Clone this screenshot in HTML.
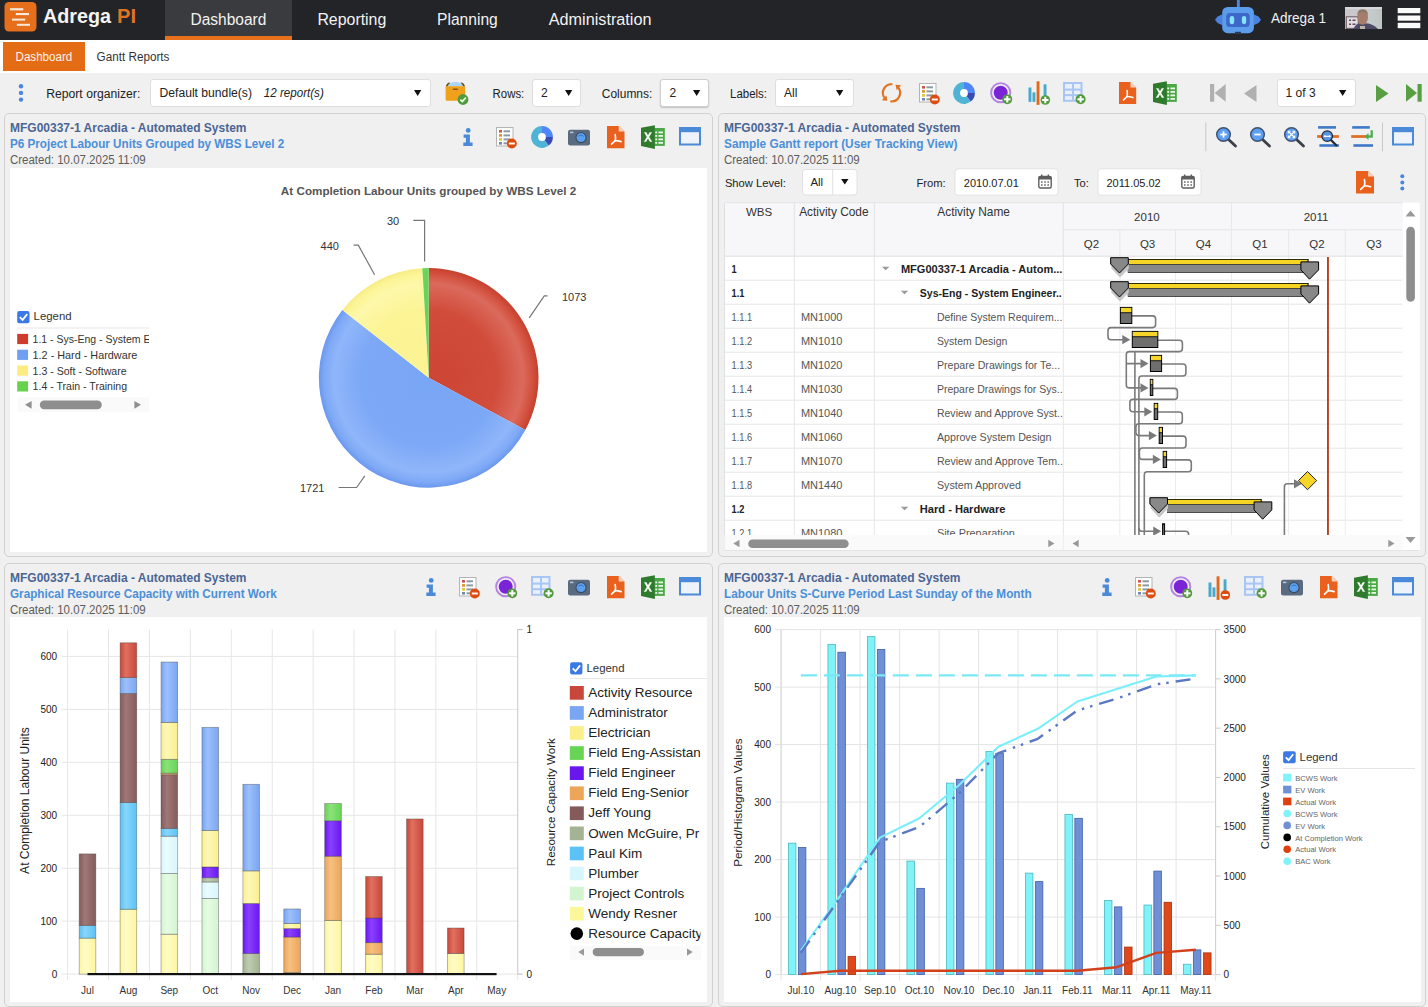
<!DOCTYPE html>
<html><head><meta charset="utf-8"><title>Adrega PI Dashboard</title>
<style>
*{box-sizing:border-box;margin:0;padding:0}
html,body{width:1428px;height:1007px;overflow:hidden;background:#f0f0f0;font-family:"Liberation Sans", sans-serif}
.t{position:absolute;white-space:nowrap}
.a{position:absolute}
svg.s{position:absolute;overflow:visible}
</style></head>
<body>
<div class="a" style="left:0px;top:0px;width:1428px;height:40px;background:#232428"></div>
<div class="a" style="left:165px;top:0px;width:127px;height:40px;background:#3a3b3f"></div>
<div class="a" style="left:165px;top:36px;width:127px;height:4px;background:#e8701a"></div>
<svg class="s" style="left:0;top:0" width="40" height="40">
<rect x="4.5" y="2" width="32" height="29.5" rx="4.5" fill="#e56f1a"/>
<g fill="#fbe9dc"><rect x="10" y="8.2" width="13.3" height="2.2"/><rect x="15.8" y="13" width="13.2" height="2.1"/>
<rect x="12" y="18.6" width="13.2" height="2"/><rect x="16.8" y="23.8" width="13.2" height="2"/></g></svg>






<svg class="s" style="left:1210px;top:0" width="60" height="40">
<rect x="26.9" y="0" width="2.9" height="8" fill="#4f86dc"/>
<path d="M12.6,14.3 L7.5,16.5 L5,19.7 L7.5,23 L12.6,25.2 Z" fill="#4a82e0"/>
<path d="M43.5,14.3 L48.6,16.5 L51,19.7 L48.6,23 L43.5,25.2 Z" fill="#4a82e0"/>
<rect x="12.2" y="6.9" width="31.7" height="26.3" rx="5.5" fill="#5b9ceb"/>
<rect x="25" y="31.8" width="6" height="1.6" fill="#2a3550"/>
<rect x="16.2" y="13" width="23.5" height="13.9" rx="3.5" fill="#3b68c9"/>
<rect x="19.7" y="16" width="4.5" height="8.2" rx="2.2" fill="#86e2fd"/>
<rect x="31.9" y="16" width="4.3" height="8.2" rx="2.1" fill="#86e2fd"/>
</svg>

<svg class="s" style="left:1345px;top:7px" width="37" height="22">
<defs><linearGradient id="ph" x1="0" x2="1"><stop offset="0" stop-color="#cdc5cb"/><stop offset="0.6" stop-color="#c9cbcb"/><stop offset="1" stop-color="#bcc6c4"/></linearGradient></defs>
<rect width="37" height="22" fill="url(#ph)"/>
<rect x="0" y="0" width="37" height="2" fill="#d8d8dc"/>
<rect x="1.3" y="9.8" width="12" height="11.6" fill="#e2dce2" stroke="#6e5c64" stroke-width="1.1"/>
<g fill="#5a4c58"><rect x="4" y="12.5" width="2" height="1.5"/><rect x="7.5" y="12.5" width="3" height="1.5"/><rect x="4" y="16.5" width="2" height="1.5"/><rect x="7.5" y="16.5" width="3" height="1.5"/></g>
<path d="M8.5,22 Q11,15.5 17,16.5 Q27,15.5 33,22 Z" fill="#4c4a66"/>
<ellipse cx="17.6" cy="10.6" rx="5.4" ry="7.2" fill="#a67d6b"/>
<path d="M12.2,9 Q12,2 17.6,2.2 Q23.3,2 23,9 Q22,5 17.6,5 Q13,5 12.2,9 Z" fill="#8a7868"/>
<rect x="15" y="19" width="5" height="3" fill="#bdb3a8"/>
</svg>
<svg class="s" style="left:1397px;top:8px" width="24" height="22"><g fill="#fafafa"><rect x="0.7" y="0" width="22.6" height="5.2"/><rect x="0.7" y="7.5" width="22.6" height="5.2"/><rect x="0.7" y="14.8" width="22.6" height="5.4"/></g></svg>
<div class="a" style="left:0px;top:40px;width:1428px;height:33px;background:#fff"></div>
<div class="a" style="left:3px;top:42px;width:82px;height:29px;background:#e36c14"></div>


<div class="a" style="left:0px;top:73px;width:1428px;height:40px;background:#f0f0f0"></div>
<svg class="s" style="left:16px;top:82px" width="10" height="22"><g fill="#4a86e0"><circle cx="5" cy="4.2" r="2.2"/><circle cx="5" cy="10.9" r="2.2"/><circle cx="5" cy="17.6" r="2.2"/></g></svg>

<div class="a" style="left:150px;top:79px;width:281px;height:28px;background:#fff;border:1px solid #dedede;border-radius:3px;"></div>


<svg class="s" style="left:413.9px;top:90px" width="8" height="6"><path d="M0,0 L7.3,0 L3.65,6 Z" fill="#111"/></svg>

<div class="a" style="left:532px;top:79px;width:49px;height:28px;background:#fff;border:1px solid #dedede;border-radius:3px;"></div>
<div class="t" style="left:541.0px;top:86.7px;font-size:12px;line-height:12px;color:#222;font-weight:normal;font-style:normal;">2</div>
<svg class="s" style="left:564.9px;top:90px" width="8" height="6"><path d="M0,0 L7.3,0 L3.65,6 Z" fill="#111"/></svg>

<div class="a" style="left:660px;top:79px;width:49px;height:28px;background:#fff;border:1px solid #dedede;border-radius:3px;border-color:#cfcfcf;box-shadow:0 1px 1.5px rgba(0,0,0,0.2)"></div>
<div class="t" style="left:669.6px;top:86.7px;font-size:12px;line-height:12px;color:#222;font-weight:normal;font-style:normal;">2</div>
<svg class="s" style="left:692.9px;top:90px" width="8" height="6"><path d="M0,0 L7.3,0 L3.65,6 Z" fill="#111"/></svg>

<div class="a" style="left:775px;top:79px;width:79px;height:28px;background:#fff;border:1px solid #dedede;border-radius:3px;"></div>
<div class="t" style="left:784.0px;top:86.7px;font-size:12px;line-height:12px;color:#222;font-weight:normal;font-style:normal;">All</div>
<svg class="s" style="left:836.4px;top:90px" width="8" height="6"><path d="M0,0 L7.3,0 L3.65,6 Z" fill="#111"/></svg>
<div class="a" style="left:1277px;top:79px;width:79px;height:28px;background:#fff;border:1px solid #dedede;border-radius:3px;"></div>
<div class="t" style="left:1285.6px;top:86.7px;font-size:12px;line-height:12px;color:#222;font-weight:normal;font-style:normal;">1 of 3</div>
<svg class="s" style="left:1338.9px;top:90px" width="8" height="6"><path d="M0,0 L7.3,0 L3.65,6 Z" fill="#111"/></svg>
<svg class="s" style="left:444.5px;top:81px" width="24" height="25" viewBox="0 0 24 25"><path d="M0.8,5.6 Q1.4,1.6 5,1.4 L3.6,5.6 Z" fill="#6a4a10"/><path d="M20,5.6 Q19.4,1.6 15.8,1.4 L17.2,5.6 Z" fill="#6a4a10"/><path d="M2.6,5.6 A7.9,5.4 0 0 1 18.2,5.6 Z" fill="#a9d6f8"/><rect x="0.6" y="5.2" width="19.6" height="14.6" rx="1" fill="#f0a11c"/><rect x="7.8" y="7.6" width="5.1" height="1.4" rx="0.6" fill="#8a5208"/><circle cx="18" cy="18.5" r="5.4" fill="#4f9a3c"/><path d="M15.3,18.6 L17.3,20.5 L20.8,16.6" fill="none" stroke="#e8ffe0" stroke-width="1.7"/></svg>
<svg class="s" style="left:880.5px;top:82px" width="21" height="21" viewBox="0 0 21 21"><g fill="none" stroke="#e0711f" stroke-width="2.1"><path d="M11.40,2.25 A8.6,8.6 0 0 0 3.72,16.09"/><path d="M9.30,19.32 A8.6,8.6 0 0 0 17.28,5.51"/></g><g fill="#e0711f"><path d="M0.8,18.2 L6.4,18.7 L5.4,13.5 Z"/><path d="M20.2,3.3 L14.6,2.8 L15.6,8 Z"/></g></svg>
<svg class="s" style="left:919px;top:83px" width="22" height="22" viewBox="0 0 22 22"><rect x="0.5" y="0.5" width="16.5" height="18.5" fill="#fff" stroke="#b4b4b4"/><rect x="3" y="3" width="3" height="2.6" fill="#c8574d"/><rect x="7.5" y="3.3" width="6.5" height="2" fill="#8d9aa2"/><rect x="3" y="7.1" width="3" height="2.6" fill="#e0922f"/><rect x="7.5" y="7.4" width="6.5" height="2" fill="#8d9aa2"/><rect x="3" y="11.1" width="3" height="2.6" fill="#e2c33c"/><rect x="7.5" y="11.4" width="6.5" height="2" fill="#8d9aa2"/><rect x="3" y="15" width="3" height="2.6" fill="#6f8cae"/><rect x="7.5" y="15.3" width="6.5" height="2" fill="#8d9aa2"/><circle cx="15.8" cy="16.5" r="5.0" fill="#dd4d10"/><rect x="12.8" y="15.55" width="6" height="1.9" fill="#fff"/></svg>
<svg class="s" style="left:952px;top:81px" width="24" height="24" viewBox="0 0 24 24"><g transform="translate(12,12)"><path d="M0,0 L0.00,-10.90 A10.9,10.9 0 0 1 10.90,-0.00 Z" fill="#4f86f7"/><path d="M0,0 L10.90,-0.00 A10.9,10.9 0 0 1 6.71,8.59 Z" fill="#3a4bb3"/><path d="M0,0 L6.71,8.59 A10.9,10.9 0 1 1 -0.00,-10.90 Z" fill="#4fb3d6"/><circle r="3.9" fill="#fff"/></g></svg>
<svg class="s" style="left:990px;top:82px" width="23" height="23" viewBox="0 0 23 23"><circle cx="10.7" cy="10.7" r="9.6" fill="none" stroke="#b483e4" stroke-width="1.9"/><circle cx="10.7" cy="10.7" r="7" fill="#7b23d6"/><circle cx="17.3" cy="17.3" r="4.9" fill="#529a3c"/><rect x="14.100000000000001" y="16.3" width="6.4" height="2" fill="#fff"/><rect x="16.3" y="14.100000000000001" width="2" height="6.4" fill="#fff"/></svg>
<svg class="s" style="left:1027.5px;top:80.8px" width="23" height="25" viewBox="0 0 23 25"><rect x="0.5" y="6.5" width="2.9" height="14.4" fill="#4aa8cc"/><rect x="4.5" y="11.4" width="2.9" height="9.5" fill="#4aa8cc"/><rect x="8.6" y="0.3" width="2.9" height="23.6" fill="#e06a1a"/><rect x="15.6" y="3.3" width="2.9" height="13" fill="#4aa8cc"/><circle cx="17.3" cy="19.0" r="4.8" fill="#529a3c"/><rect x="14.100000000000001" y="18.0" width="6.4" height="2" fill="#fff"/><rect x="16.3" y="15.8" width="2" height="6.4" fill="#fff"/></svg>
<svg class="s" style="left:1063px;top:81.5px" width="23" height="23" viewBox="0 0 23 23"><rect x="1" y="1" width="17.5" height="17.8" fill="#e9f0fc" stroke="#a9c5f3" stroke-width="2"/><rect x="9" y="1" width="2" height="18" fill="#a9c5f3"/><rect x="1" y="6.6" width="18" height="2" fill="#a9c5f3"/><rect x="1" y="12.2" width="18" height="2" fill="#a9c5f3"/><circle cx="17.6" cy="17.3" r="5.0" fill="#529a3c"/><rect x="14.400000000000002" y="16.3" width="6.4" height="2" fill="#fff"/><rect x="16.6" y="14.100000000000001" width="2" height="6.4" fill="#fff"/></svg>
<svg class="s" style="left:1119.2px;top:81.8px" width="17.2" height="22" viewBox="0 0 17.2 22"><path d="M0,0 L11.5,0 L17.2,5.5 L17.2,22 L0,22 Z" fill="#e9611c"/><path d="M11.5,0 L17.2,5.5 L11.5,5.5 Z" fill="#f7d3c0"/><g transform="translate(8.08,14.52) scale(1.000,1.000)" fill="none" stroke="#fff" stroke-width="1.6" stroke-linecap="round"><path d="M0,-6 Q0.6,-3 0,0"/><path d="M0,0 L-3.6,3.5"/><path d="M0,0 Q3,0.2 5.8,1"/></g></svg>
<svg class="s" style="left:1153px;top:80.8px" width="24" height="24" viewBox="0 0 24 24"><rect x="13.5" y="3" width="10.3" height="17.9" fill="#4aa846"/><g fill="#e9f7e6"><rect x="14.3" y="6.5" width="1.8" height="1.8"/><rect x="17.5" y="6.5" width="4.5" height="1.8"/><rect x="14.3" y="10" width="1.8" height="1.8"/><rect x="17.5" y="10" width="4.5" height="1.8"/><rect x="14.3" y="13.5" width="1.8" height="1.8"/><rect x="17.5" y="13.5" width="4.5" height="1.8"/><rect x="14.3" y="17" width="1.8" height="1.8"/><rect x="17.5" y="17" width="4.5" height="1.8"/></g><path d="M0,2.8 L13.9,0.3 L13.9,23.9 L0,21 Z" fill="#2f7a2c"/><path d="M3,7.3 L5.4,7.3 L7,10.2 L8.6,7.3 L11,7.3 L8.2,11.9 L11.2,16.8 L8.8,16.8 L7,13.6 L5.2,16.8 L2.8,16.8 L5.8,11.9 Z" fill="#f4fbf2"/></svg>
<svg class="s" style="left:1210px;top:84.1px" width="16" height="18" viewBox="0 0 16 18"><rect x="0" y="0" width="4.2" height="17.7" fill="#b0b0b0"/><path d="M4.7,8.9 L15.7,0 L15.7,17.7 Z" fill="#b0b0b0"/></svg>
<svg class="s" style="left:1244.4px;top:84.6px" width="13" height="18" viewBox="0 0 13 18"><path d="M0,8.6 L12.5,0 L12.5,17 Z" fill="#b0b0b0"/></svg>
<svg class="s" style="left:1375.8px;top:84.6px" width="13" height="18" viewBox="0 0 13 18"><path d="M12.5,8.6 L0,0 L0,17 Z" fill="#5a9e44"/></svg>
<svg class="s" style="left:1405.6px;top:84.1px" width="16" height="18" viewBox="0 0 16 18"><rect x="11.5" y="0" width="4.2" height="17.7" fill="#5a9e44"/><path d="M11,8.9 L0,0 L0,17.7 Z" fill="#5a9e44"/></svg>
<div class="a" style="left:4px;top:113px;width:709px;height:444px;background:#f0f0f0;border:1px solid #d2d2d2;border-radius:5px"></div>
<div class="a" style="left:718px;top:113px;width:708px;height:444px;background:#f0f0f0;border:1px solid #d2d2d2;border-radius:5px"></div>
<div class="a" style="left:4px;top:563px;width:709px;height:444px;background:#f0f0f0;border:1px solid #d2d2d2;border-radius:5px"></div>
<div class="a" style="left:718px;top:563px;width:708px;height:444px;background:#f0f0f0;border:1px solid #d2d2d2;border-radius:5px"></div>












<div class="a" style="left:10px;top:167.5px;width:697px;height:384.5px;background:#fff"></div>
<div class="a" style="left:10px;top:617px;width:697px;height:385px;background:#fff"></div>
<div class="a" style="left:724px;top:617px;width:697px;height:385px;background:#fff"></div>
<svg class="s" style="left:463px;top:128px" width="10" height="18" viewBox="0 0 10 18"><circle cx="5.2" cy="2.4" r="2.4" fill="#4a8ad8"/><path d="M0.6,6.6 L6.9,6.6 L6.9,14.5 L9.6,14.5 L9.6,17.9 L0.3,17.9 L0.3,14.5 L2.9,14.5 L2.9,9.8 L0.6,9.8 Z" fill="#4a8ad8"/></svg>
<svg class="s" style="left:496px;top:127px" width="22" height="22" viewBox="0 0 22 22"><rect x="0.5" y="0.5" width="16.5" height="18.5" fill="#fff" stroke="#b4b4b4"/><rect x="3" y="3" width="3" height="2.6" fill="#c8574d"/><rect x="7.5" y="3.3" width="6.5" height="2" fill="#8d9aa2"/><rect x="3" y="7.1" width="3" height="2.6" fill="#e0922f"/><rect x="7.5" y="7.4" width="6.5" height="2" fill="#8d9aa2"/><rect x="3" y="11.1" width="3" height="2.6" fill="#e2c33c"/><rect x="7.5" y="11.4" width="6.5" height="2" fill="#8d9aa2"/><rect x="3" y="15" width="3" height="2.6" fill="#6f8cae"/><rect x="7.5" y="15.3" width="6.5" height="2" fill="#8d9aa2"/><circle cx="15.8" cy="16.5" r="5.0" fill="#dd4d10"/><rect x="12.8" y="15.55" width="6" height="1.9" fill="#fff"/></svg>
<svg class="s" style="left:530px;top:125px" width="24" height="24" viewBox="0 0 24 24"><g transform="translate(12,12)"><path d="M0,0 L0.00,-10.90 A10.9,10.9 0 0 1 10.90,-0.00 Z" fill="#4f86f7"/><path d="M0,0 L10.90,-0.00 A10.9,10.9 0 0 1 6.71,8.59 Z" fill="#3a4bb3"/><path d="M0,0 L6.71,8.59 A10.9,10.9 0 1 1 -0.00,-10.90 Z" fill="#4fb3d6"/><circle r="3.9" fill="#fff"/></g></svg>
<svg class="s" style="left:568px;top:128.6px" width="22" height="17" viewBox="0 0 22 17"><rect x="0" y="0.8" width="22" height="15.7" rx="2.2" fill="#5a6b80"/><rect x="2" y="2.6" width="3.4" height="1.6" fill="#b8c4d4"/><circle cx="13" cy="8.6" r="5.6" fill="#3b4a5e"/><circle cx="13" cy="8.6" r="4.5" fill="#5b9ff0"/><path d="M10.5,7.5 A3,3 0 0 1 15.5,7.5" fill="none" stroke="#2f5fa0" stroke-width="0.7"/></svg>
<svg class="s" style="left:607.3px;top:125.6px" width="17.5" height="22.2" viewBox="0 0 17.5 22.2"><path d="M0,0 L11.7,0 L17.5,5.5 L17.5,22.2 L0,22.2 Z" fill="#e9611c"/><path d="M11.7,0 L17.5,5.5 L11.7,5.5 Z" fill="#f7d3c0"/><g transform="translate(8.22,14.65) scale(1.017,1.009)" fill="none" stroke="#fff" stroke-width="1.6" stroke-linecap="round"><path d="M0,-6 Q0.6,-3 0,0"/><path d="M0,0 L-3.6,3.5"/><path d="M0,0 Q3,0.2 5.8,1"/></g></svg>
<svg class="s" style="left:641px;top:124.8px" width="24" height="24" viewBox="0 0 24 24"><rect x="13.5" y="3" width="10.3" height="17.9" fill="#4aa846"/><g fill="#e9f7e6"><rect x="14.3" y="6.5" width="1.8" height="1.8"/><rect x="17.5" y="6.5" width="4.5" height="1.8"/><rect x="14.3" y="10" width="1.8" height="1.8"/><rect x="17.5" y="10" width="4.5" height="1.8"/><rect x="14.3" y="13.5" width="1.8" height="1.8"/><rect x="17.5" y="13.5" width="4.5" height="1.8"/><rect x="14.3" y="17" width="1.8" height="1.8"/><rect x="17.5" y="17" width="4.5" height="1.8"/></g><path d="M0,2.8 L13.9,0.3 L13.9,23.9 L0,21 Z" fill="#2f7a2c"/><path d="M3,7.3 L5.4,7.3 L7,10.2 L8.6,7.3 L11,7.3 L8.2,11.9 L11.2,16.8 L8.8,16.8 L7,13.6 L5.2,16.8 L2.8,16.8 L5.8,11.9 Z" fill="#f4fbf2"/></svg>
<svg class="s" style="left:679px;top:127.4px" width="22" height="19" viewBox="0 0 22 19"><rect x="1" y="1" width="20" height="16.5" fill="#eef3fb" stroke="#4a8ad8" stroke-width="2"/><rect x="0" y="0" width="22" height="5.2" fill="#4a8ad8"/></svg>
<svg class="s" style="left:426px;top:577.7px" width="10" height="18" viewBox="0 0 10 18"><circle cx="5.2" cy="2.4" r="2.4" fill="#4a8ad8"/><path d="M0.6,6.6 L6.9,6.6 L6.9,14.5 L9.6,14.5 L9.6,17.9 L0.3,17.9 L0.3,14.5 L2.9,14.5 L2.9,9.8 L0.6,9.8 Z" fill="#4a8ad8"/></svg>
<svg class="s" style="left:459px;top:577px" width="22" height="22" viewBox="0 0 22 22"><rect x="0.5" y="0.5" width="16.5" height="18.5" fill="#fff" stroke="#b4b4b4"/><rect x="3" y="3" width="3" height="2.6" fill="#c8574d"/><rect x="7.5" y="3.3" width="6.5" height="2" fill="#8d9aa2"/><rect x="3" y="7.1" width="3" height="2.6" fill="#e0922f"/><rect x="7.5" y="7.4" width="6.5" height="2" fill="#8d9aa2"/><rect x="3" y="11.1" width="3" height="2.6" fill="#e2c33c"/><rect x="7.5" y="11.4" width="6.5" height="2" fill="#8d9aa2"/><rect x="3" y="15" width="3" height="2.6" fill="#6f8cae"/><rect x="7.5" y="15.3" width="6.5" height="2" fill="#8d9aa2"/><circle cx="15.8" cy="16.5" r="5.0" fill="#dd4d10"/><rect x="12.8" y="15.55" width="6" height="1.9" fill="#fff"/></svg>
<svg class="s" style="left:494.5px;top:576px" width="23" height="23" viewBox="0 0 23 23"><circle cx="10.7" cy="10.7" r="9.6" fill="none" stroke="#b483e4" stroke-width="1.9"/><circle cx="10.7" cy="10.7" r="7" fill="#7b23d6"/><circle cx="17.3" cy="17.3" r="4.9" fill="#529a3c"/><rect x="14.100000000000001" y="16.3" width="6.4" height="2" fill="#fff"/><rect x="16.3" y="14.100000000000001" width="2" height="6.4" fill="#fff"/></svg>
<svg class="s" style="left:531px;top:576px" width="23" height="23" viewBox="0 0 23 23"><rect x="1" y="1" width="17.5" height="17.8" fill="#e9f0fc" stroke="#a9c5f3" stroke-width="2"/><rect x="9" y="1" width="2" height="18" fill="#a9c5f3"/><rect x="1" y="6.6" width="18" height="2" fill="#a9c5f3"/><rect x="1" y="12.2" width="18" height="2" fill="#a9c5f3"/><circle cx="17.6" cy="17.3" r="5.0" fill="#529a3c"/><rect x="14.400000000000002" y="16.3" width="6.4" height="2" fill="#fff"/><rect x="16.6" y="14.100000000000001" width="2" height="6.4" fill="#fff"/></svg>
<svg class="s" style="left:568.2px;top:578.7px" width="22" height="17" viewBox="0 0 22 17"><rect x="0" y="0.8" width="22" height="15.7" rx="2.2" fill="#5a6b80"/><rect x="2" y="2.6" width="3.4" height="1.6" fill="#b8c4d4"/><circle cx="13" cy="8.6" r="5.6" fill="#3b4a5e"/><circle cx="13" cy="8.6" r="4.5" fill="#5b9ff0"/><path d="M10.5,7.5 A3,3 0 0 1 15.5,7.5" fill="none" stroke="#2f5fa0" stroke-width="0.7"/></svg>
<svg class="s" style="left:607.2px;top:575.7px" width="17.5" height="22.2" viewBox="0 0 17.5 22.2"><path d="M0,0 L11.7,0 L17.5,5.5 L17.5,22.2 L0,22.2 Z" fill="#e9611c"/><path d="M11.7,0 L17.5,5.5 L11.7,5.5 Z" fill="#f7d3c0"/><g transform="translate(8.22,14.65) scale(1.017,1.009)" fill="none" stroke="#fff" stroke-width="1.6" stroke-linecap="round"><path d="M0,-6 Q0.6,-3 0,0"/><path d="M0,0 L-3.6,3.5"/><path d="M0,0 Q3,0.2 5.8,1"/></g></svg>
<svg class="s" style="left:641px;top:575px" width="24" height="24" viewBox="0 0 24 24"><rect x="13.5" y="3" width="10.3" height="17.9" fill="#4aa846"/><g fill="#e9f7e6"><rect x="14.3" y="6.5" width="1.8" height="1.8"/><rect x="17.5" y="6.5" width="4.5" height="1.8"/><rect x="14.3" y="10" width="1.8" height="1.8"/><rect x="17.5" y="10" width="4.5" height="1.8"/><rect x="14.3" y="13.5" width="1.8" height="1.8"/><rect x="17.5" y="13.5" width="4.5" height="1.8"/><rect x="14.3" y="17" width="1.8" height="1.8"/><rect x="17.5" y="17" width="4.5" height="1.8"/></g><path d="M0,2.8 L13.9,0.3 L13.9,23.9 L0,21 Z" fill="#2f7a2c"/><path d="M3,7.3 L5.4,7.3 L7,10.2 L8.6,7.3 L11,7.3 L8.2,11.9 L11.2,16.8 L8.8,16.8 L7,13.6 L5.2,16.8 L2.8,16.8 L5.8,11.9 Z" fill="#f4fbf2"/></svg>
<svg class="s" style="left:679px;top:577.3px" width="22" height="19" viewBox="0 0 22 19"><rect x="1" y="1" width="20" height="16.5" fill="#eef3fb" stroke="#4a8ad8" stroke-width="2"/><rect x="0" y="0" width="22" height="5.2" fill="#4a8ad8"/></svg>
<svg class="s" style="left:1102px;top:577.9px" width="10" height="18" viewBox="0 0 10 18"><circle cx="5.2" cy="2.4" r="2.4" fill="#4a8ad8"/><path d="M0.6,6.6 L6.9,6.6 L6.9,14.5 L9.6,14.5 L9.6,17.9 L0.3,17.9 L0.3,14.5 L2.9,14.5 L2.9,9.8 L0.6,9.8 Z" fill="#4a8ad8"/></svg>
<svg class="s" style="left:1135px;top:577px" width="22" height="22" viewBox="0 0 22 22"><rect x="0.5" y="0.5" width="16.5" height="18.5" fill="#fff" stroke="#b4b4b4"/><rect x="3" y="3" width="3" height="2.6" fill="#c8574d"/><rect x="7.5" y="3.3" width="6.5" height="2" fill="#8d9aa2"/><rect x="3" y="7.1" width="3" height="2.6" fill="#e0922f"/><rect x="7.5" y="7.4" width="6.5" height="2" fill="#8d9aa2"/><rect x="3" y="11.1" width="3" height="2.6" fill="#e2c33c"/><rect x="7.5" y="11.4" width="6.5" height="2" fill="#8d9aa2"/><rect x="3" y="15" width="3" height="2.6" fill="#6f8cae"/><rect x="7.5" y="15.3" width="6.5" height="2" fill="#8d9aa2"/><circle cx="15.8" cy="16.5" r="5.0" fill="#dd4d10"/><rect x="12.8" y="15.55" width="6" height="1.9" fill="#fff"/></svg>
<svg class="s" style="left:1170.3px;top:576px" width="23" height="23" viewBox="0 0 23 23"><circle cx="10.7" cy="10.7" r="9.6" fill="none" stroke="#b483e4" stroke-width="1.9"/><circle cx="10.7" cy="10.7" r="7" fill="#7b23d6"/><circle cx="17.3" cy="17.3" r="4.9" fill="#529a3c"/><rect x="14.100000000000001" y="16.3" width="6.4" height="2" fill="#fff"/><rect x="16.3" y="14.100000000000001" width="2" height="6.4" fill="#fff"/></svg>
<svg class="s" style="left:1207.6px;top:575.5px" width="23" height="25" viewBox="0 0 23 25"><rect x="0.5" y="6.5" width="2.9" height="14.4" fill="#4aa8cc"/><rect x="4.5" y="11.4" width="2.9" height="9.5" fill="#4aa8cc"/><rect x="8.6" y="0.3" width="2.9" height="23.6" fill="#e06a1a"/><rect x="15.6" y="3.3" width="2.9" height="13" fill="#4aa8cc"/><circle cx="17.3" cy="19.0" r="4.8" fill="#dd4d10"/><rect x="14.3" y="18.05" width="6" height="1.9" fill="#fff"/></svg>
<svg class="s" style="left:1244px;top:576px" width="23" height="23" viewBox="0 0 23 23"><rect x="1" y="1" width="17.5" height="17.8" fill="#e9f0fc" stroke="#a9c5f3" stroke-width="2"/><rect x="9" y="1" width="2" height="18" fill="#a9c5f3"/><rect x="1" y="6.6" width="18" height="2" fill="#a9c5f3"/><rect x="1" y="12.2" width="18" height="2" fill="#a9c5f3"/><circle cx="17.6" cy="17.3" r="5.0" fill="#529a3c"/><rect x="14.400000000000002" y="16.3" width="6.4" height="2" fill="#fff"/><rect x="16.6" y="14.100000000000001" width="2" height="6.4" fill="#fff"/></svg>
<svg class="s" style="left:1281.2px;top:578.7px" width="22" height="17" viewBox="0 0 22 17"><rect x="0" y="0.8" width="22" height="15.7" rx="2.2" fill="#5a6b80"/><rect x="2" y="2.6" width="3.4" height="1.6" fill="#b8c4d4"/><circle cx="13" cy="8.6" r="5.6" fill="#3b4a5e"/><circle cx="13" cy="8.6" r="4.5" fill="#5b9ff0"/><path d="M10.5,7.5 A3,3 0 0 1 15.5,7.5" fill="none" stroke="#2f5fa0" stroke-width="0.7"/></svg>
<svg class="s" style="left:1320.3px;top:575.7px" width="17.5" height="22.2" viewBox="0 0 17.5 22.2"><path d="M0,0 L11.7,0 L17.5,5.5 L17.5,22.2 L0,22.2 Z" fill="#e9611c"/><path d="M11.7,0 L17.5,5.5 L11.7,5.5 Z" fill="#f7d3c0"/><g transform="translate(8.22,14.65) scale(1.017,1.009)" fill="none" stroke="#fff" stroke-width="1.6" stroke-linecap="round"><path d="M0,-6 Q0.6,-3 0,0"/><path d="M0,0 L-3.6,3.5"/><path d="M0,0 Q3,0.2 5.8,1"/></g></svg>
<svg class="s" style="left:1354px;top:575px" width="24" height="24" viewBox="0 0 24 24"><rect x="13.5" y="3" width="10.3" height="17.9" fill="#4aa846"/><g fill="#e9f7e6"><rect x="14.3" y="6.5" width="1.8" height="1.8"/><rect x="17.5" y="6.5" width="4.5" height="1.8"/><rect x="14.3" y="10" width="1.8" height="1.8"/><rect x="17.5" y="10" width="4.5" height="1.8"/><rect x="14.3" y="13.5" width="1.8" height="1.8"/><rect x="17.5" y="13.5" width="4.5" height="1.8"/><rect x="14.3" y="17" width="1.8" height="1.8"/><rect x="17.5" y="17" width="4.5" height="1.8"/></g><path d="M0,2.8 L13.9,0.3 L13.9,23.9 L0,21 Z" fill="#2f7a2c"/><path d="M3,7.3 L5.4,7.3 L7,10.2 L8.6,7.3 L11,7.3 L8.2,11.9 L11.2,16.8 L8.8,16.8 L7,13.6 L5.2,16.8 L2.8,16.8 L5.8,11.9 Z" fill="#f4fbf2"/></svg>
<svg class="s" style="left:1392px;top:577.3px" width="22" height="19" viewBox="0 0 22 19"><rect x="1" y="1" width="20" height="16.5" fill="#eef3fb" stroke="#4a8ad8" stroke-width="2"/><rect x="0" y="0" width="22" height="5.2" fill="#4a8ad8"/></svg>
<svg class="s" style="left:10px;top:167.5px" width="697" height="384.5" viewBox="10 167.5 697 384.5"><defs><radialGradient id="pgr" gradientUnits="userSpaceOnUse" cx="428.7" cy="377.3" r="109.8"><stop offset="0" stop-color="#cd4533"/><stop offset="0.62" stop-color="#d14c3b"/><stop offset="0.86" stop-color="#db6a5c"/><stop offset="0.95" stop-color="#d24f3d"/><stop offset="1" stop-color="#c63f2d"/></radialGradient><radialGradient id="pgb" gradientUnits="userSpaceOnUse" cx="428.7" cy="377.3" r="109.8"><stop offset="0" stop-color="#78a5f5"/><stop offset="0.62" stop-color="#7da8f6"/><stop offset="0.86" stop-color="#8fb6fa"/><stop offset="0.95" stop-color="#7fa9f6"/><stop offset="1" stop-color="#6a98ee"/></radialGradient><radialGradient id="pgy" gradientUnits="userSpaceOnUse" cx="428.7" cy="377.3" r="109.8"><stop offset="0" stop-color="#fcf493"/><stop offset="0.62" stop-color="#fcf495"/><stop offset="0.86" stop-color="#fdf8aa"/><stop offset="0.95" stop-color="#fcf596"/><stop offset="1" stop-color="#f5ec85"/></radialGradient><radialGradient id="pgg" gradientUnits="userSpaceOnUse" cx="428.7" cy="377.3" r="109.8"><stop offset="0" stop-color="#66cf55"/><stop offset="1" stop-color="#6ad35a"/></radialGradient></defs><path d="M428.7,377.3 L428.70,267.50 A109.8,109.8 0 0 1 525.33,429.43 Z" fill="url(#pgr)"/><path d="M428.7,377.3 L525.33,429.43 A109.8,109.8 0 1 1 342.37,309.46 Z" fill="url(#pgb)"/><path d="M428.7,377.3 L342.37,309.46 A109.8,109.8 0 0 1 422.36,267.68 Z" fill="url(#pgy)"/><path d="M428.7,377.3 L422.36,267.68 A109.8,109.8 0 0 1 428.70,267.50 Z" fill="url(#pgg)"/><path d="M413.3,219.8 L424.6,219.8 L424.6,261" fill="none" stroke="#777" stroke-width="1.2"/><path d="M353.5,244.7 L358.3,244.7 L374.6,274.2" fill="none" stroke="#777" stroke-width="1.2"/><path d="M547.6,295.4 L544.3,295.4 L529.2,317.4" fill="none" stroke="#777" stroke-width="1.2"/><path d="M338.6,487 L356.6,487 L364.8,475.3" fill="none" stroke="#777" stroke-width="1.2"/><text x="387" y="224" font-family="Liberation Sans" font-size="11" fill="#333">30</text><text x="320.6" y="249.3" font-family="Liberation Sans" font-size="11" fill="#333">440</text><text x="562" y="300.6" font-family="Liberation Sans" font-size="11" fill="#333">1073</text><text x="300" y="491.3" font-family="Liberation Sans" font-size="11" fill="#333">1721</text><text x="428.6" y="194.6" text-anchor="middle" font-family="Liberation Sans" font-size="11.7" font-weight="bold" fill="#555">At Completion Labour Units grouped by WBS Level 2</text><rect x="17.2" y="310.5" width="12.3" height="12.2" rx="2" fill="#3b7ae6"/><path d="M19.8,316.6 L22.6,319.4 L27.2,313.6" fill="none" stroke="#fff" stroke-width="1.8"/><text x="33.6" y="319.8" font-family="Liberation Sans" font-size="11.4" fill="#333">Legend</text><rect x="17" y="327" width="132" height="1" fill="#e8e8e8"/><defs><clipPath id="plc"><rect x="10" y="328" width="139" height="70"/></clipPath></defs><g clip-path="url(#plc)"><rect x="17.2" y="333.4" width="10.9" height="10.2" fill="#cf3c2c"/><text x="32.6" y="342.4" font-family="Liberation Sans" font-size="10.5" fill="#333">1.1 - Sys-Eng - System E</text><rect x="17.2" y="349.2" width="10.9" height="10.2" fill="#6e9ff0"/><text x="32.6" y="358.2" font-family="Liberation Sans" font-size="10.8" fill="#333" textLength="104.7" lengthAdjust="spacingAndGlyphs">1.2 - Hard - Hardware</text><rect x="17.2" y="365.0" width="10.9" height="10.2" fill="#fbeb80"/><text x="32.6" y="374.0" font-family="Liberation Sans" font-size="10.8" fill="#333" textLength="94" lengthAdjust="spacingAndGlyphs">1.3 - Soft - Software</text><rect x="17.2" y="380.8" width="10.9" height="10.2" fill="#68d24c"/><text x="32.6" y="389.8" font-family="Liberation Sans" font-size="10.8" fill="#333" textLength="94.5" lengthAdjust="spacingAndGlyphs">1.4 - Train - Training</text></g><rect x="17.5" y="397" width="131.5" height="14.5" fill="#fafafa"/><path d="M25,404.3 L31.6,400.4 L31.6,408.3 Z" fill="#909090"/><rect x="39.8" y="400" width="62" height="8.7" rx="4.35" fill="#8e8e8e"/><path d="M141,404.3 L134.4,400.4 L134.4,408.3 Z" fill="#909090"/></svg>
<svg class="s" style="left:0;top:0" width="1428" height="1007" viewBox="0 0 1428 1007"><text x="724.9" y="186.5" font-family="Liberation Sans" font-size="11.2" fill="#222" font-weight="normal" text-anchor="start">Show Level:</text><rect x="802.5" y="169.5" width="54.5" height="25.5" rx="3" fill="#fff" stroke="#e0e0e0"/><rect x="832.2" y="170" width="1" height="24.5" fill="#e0e0e0"/><text x="810.4" y="185.8" font-family="Liberation Sans" font-size="11.5" fill="#222" font-weight="normal" text-anchor="start">All</text><path d="M841.1,179.1 L848.5,179.1 L844.8,184.6 Z" fill="#111"/><text x="916.4" y="186.5" font-family="Liberation Sans" font-size="11.2" fill="#222" font-weight="normal" text-anchor="start">From:</text><rect x="955" y="168.8" width="103" height="26.4" rx="3" fill="#fff" stroke="#e2e2e2"/><text x="963.8" y="186.5" font-family="Liberation Sans" font-size="11" fill="#222" font-weight="normal" text-anchor="start">2010.07.01</text><text x="1074" y="186.5" font-family="Liberation Sans" font-size="11.2" fill="#222" font-weight="normal" text-anchor="start">To:</text><rect x="1098" y="168.8" width="103" height="26.4" rx="3" fill="#fff" stroke="#e2e2e2"/><text x="1106.5" y="186.5" font-family="Liberation Sans" font-size="11" fill="#222" font-weight="normal" text-anchor="start">2011.05.02</text><rect x="1406.3" y="173.5" width="0" height="0"/><g fill="#4a86e0"><circle cx="1402.3" cy="176.2" r="2"/><circle cx="1402.3" cy="182.4" r="2"/><circle cx="1402.3" cy="188.6" r="2"/></g><rect x="1205.3" y="122.3" width="1" height="29" fill="#c8c8c8"/><rect x="1382" y="122.3" width="1" height="29" fill="#c8c8c8"/><g fill="#3f78c8"><rect x="1318.1" y="126.1" width="17.9" height="2.6"/><rect x="1319.4" y="144.2" width="19.5" height="2.6"/><rect x="1352.2" y="126.1" width="17.6" height="2.6"/><rect x="1353.4" y="144.2" width="19.6" height="2.6"/></g><g fill="#e07028"><rect x="1317.1" y="135.1" width="21.8" height="2.8"/><rect x="1351.2" y="135.1" width="15.2" height="2.8"/></g><line x1="1330" y1="139" x2="1337" y2="146" stroke="#1d2a3a" stroke-width="2.2"/><circle cx="1327.2" cy="136.1" r="5.3" fill="#5b93e0" stroke="#1d2a3a" stroke-width="1.2"/><path d="M1323.8,136.3 L1330.6,136.3" stroke="#fff" stroke-width="1.2"/><path d="M1323.5,136.3 L1325.3,135 L1325.3,137.6 Z M1330.9,136.3 L1329.1,135 L1329.1,137.6 Z" fill="#fff"/><path d="M1371.7,130.3 L1371.7,136.5 L1367,136.5" fill="none" stroke="#4caf50" stroke-width="2.3"/><path d="M1364.8,136.5 L1368.5,133 L1368.5,140 Z" fill="#4caf50"/><rect x="724.5" y="202.7" width="695.0" height="347.8" fill="#fff"/><rect x="724.5" y="202.7" width="678.3" height="53.5" fill="#f7f7f9"/><defs><clipPath id="gbody"><rect x="724.5" y="256.2" width="678.3" height="278.8"/></clipPath><clipPath id="gname"><rect x="874.3" y="256.2" width="189.0" height="278.8"/></clipPath></defs><g clip-path="url(#gbody)"><rect x="724.5" y="279.7" width="678.3" height="1" fill="#e6e6e6"/><rect x="724.5" y="303.7" width="678.3" height="1" fill="#e6e6e6"/><rect x="724.5" y="327.7" width="678.3" height="1" fill="#e6e6e6"/><rect x="724.5" y="351.7" width="678.3" height="1" fill="#e6e6e6"/><rect x="724.5" y="375.7" width="678.3" height="1" fill="#e6e6e6"/><rect x="724.5" y="399.7" width="678.3" height="1" fill="#e6e6e6"/><rect x="724.5" y="423.7" width="678.3" height="1" fill="#e6e6e6"/><rect x="724.5" y="447.7" width="678.3" height="1" fill="#e6e6e6"/><rect x="724.5" y="471.7" width="678.3" height="1" fill="#e6e6e6"/><rect x="724.5" y="495.7" width="678.3" height="1" fill="#e6e6e6"/><rect x="724.5" y="519.7" width="678.3" height="1" fill="#e6e6e6"/><rect x="1119.3" y="256.2" width="1" height="278.8" fill="#ececec"/><rect x="1175.0" y="256.2" width="1" height="278.8" fill="#ececec"/><rect x="1230.9" y="256.2" width="1" height="278.8" fill="#ececec"/><rect x="1288.1" y="256.2" width="1" height="278.8" fill="#ececec"/><rect x="1344.8" y="256.2" width="1" height="278.8" fill="#ececec"/><rect x="793.8" y="256.2" width="1" height="278.8" fill="#e6e6e6"/><rect x="873.8" y="256.2" width="1" height="278.8" fill="#e6e6e6"/><rect x="1062.8" y="256.2" width="1" height="278.8" fill="#e6e6e6"/><g transform="translate(731.6,272.8) scale(0.84,1)"><text x="0" y="0" font-family="Liberation Sans" font-size="11" fill="#222" font-weight="bold" text-anchor="start">1</text></g><g clip-path="url(#gname)"><text x="900.9" y="272.8" font-family="Liberation Sans" font-size="11" fill="#222" font-weight="bold" text-anchor="start" textLength="161.5" lengthAdjust="spacingAndGlyphs">MFG00337-1 Arcadia - Autom...</text></g><path d="M881.9,266.8 L889.4,266.8 L885.65,270.3 Z" fill="#999"/><g transform="translate(731.6,296.8) scale(0.84,1)"><text x="0" y="0" font-family="Liberation Sans" font-size="11" fill="#222" font-weight="bold" text-anchor="start">1.1</text></g><g clip-path="url(#gname)"><text x="919.8" y="296.8" font-family="Liberation Sans" font-size="11" fill="#222" font-weight="bold" text-anchor="start" textLength="142" lengthAdjust="spacingAndGlyphs">Sys-Eng - System Engineer..</text></g><path d="M900.8,290.8 L908.3,290.8 L904.55,294.3 Z" fill="#999"/><g transform="translate(731.6,320.8) scale(0.84,1)"><text x="0" y="0" font-family="Liberation Sans" font-size="11" fill="#555" font-weight="normal" text-anchor="start">1.1.1</text></g><text x="800.9" y="320.8" font-family="Liberation Sans" font-size="11" fill="#555" font-weight="normal" text-anchor="start">MN1000</text><g clip-path="url(#gname)"><text x="936.9" y="320.8" font-family="Liberation Sans" font-size="11" fill="#555" font-weight="normal" text-anchor="start" textLength="125.5" lengthAdjust="spacingAndGlyphs">Define System Requirem...</text></g><g transform="translate(731.6,344.8) scale(0.84,1)"><text x="0" y="0" font-family="Liberation Sans" font-size="11" fill="#555" font-weight="normal" text-anchor="start">1.1.2</text></g><text x="800.9" y="344.8" font-family="Liberation Sans" font-size="11" fill="#555" font-weight="normal" text-anchor="start">MN1010</text><g clip-path="url(#gname)"><text x="936.9" y="344.8" font-family="Liberation Sans" font-size="11" fill="#555" font-weight="normal" text-anchor="start" textLength="70.4" lengthAdjust="spacingAndGlyphs">System Design</text></g><g transform="translate(731.6,368.8) scale(0.84,1)"><text x="0" y="0" font-family="Liberation Sans" font-size="11" fill="#555" font-weight="normal" text-anchor="start">1.1.3</text></g><text x="800.9" y="368.8" font-family="Liberation Sans" font-size="11" fill="#555" font-weight="normal" text-anchor="start">MN1020</text><g clip-path="url(#gname)"><text x="936.9" y="368.8" font-family="Liberation Sans" font-size="11" fill="#555" font-weight="normal" text-anchor="start" textLength="123.3" lengthAdjust="spacingAndGlyphs">Prepare Drawings for Te...</text></g><g transform="translate(731.6,392.8) scale(0.84,1)"><text x="0" y="0" font-family="Liberation Sans" font-size="11" fill="#555" font-weight="normal" text-anchor="start">1.1.4</text></g><text x="800.9" y="392.8" font-family="Liberation Sans" font-size="11" fill="#555" font-weight="normal" text-anchor="start">MN1030</text><g clip-path="url(#gname)"><text x="936.9" y="392.8" font-family="Liberation Sans" font-size="11" fill="#555" font-weight="normal" text-anchor="start" textLength="125.7" lengthAdjust="spacingAndGlyphs">Prepare Drawings for Sys..</text></g><g transform="translate(731.6,416.8) scale(0.84,1)"><text x="0" y="0" font-family="Liberation Sans" font-size="11" fill="#555" font-weight="normal" text-anchor="start">1.1.5</text></g><text x="800.9" y="416.8" font-family="Liberation Sans" font-size="11" fill="#555" font-weight="normal" text-anchor="start">MN1040</text><g clip-path="url(#gname)"><text x="936.9" y="416.8" font-family="Liberation Sans" font-size="11" fill="#555" font-weight="normal" text-anchor="start" textLength="126" lengthAdjust="spacingAndGlyphs">Review and Approve Syst..</text></g><g transform="translate(731.6,440.8) scale(0.84,1)"><text x="0" y="0" font-family="Liberation Sans" font-size="11" fill="#555" font-weight="normal" text-anchor="start">1.1.6</text></g><text x="800.9" y="440.8" font-family="Liberation Sans" font-size="11" fill="#555" font-weight="normal" text-anchor="start">MN1060</text><g clip-path="url(#gname)"><text x="936.9" y="440.8" font-family="Liberation Sans" font-size="11" fill="#555" font-weight="normal" text-anchor="start" textLength="114.5" lengthAdjust="spacingAndGlyphs">Approve System Design</text></g><g transform="translate(731.6,464.8) scale(0.84,1)"><text x="0" y="0" font-family="Liberation Sans" font-size="11" fill="#555" font-weight="normal" text-anchor="start">1.1.7</text></g><text x="800.9" y="464.8" font-family="Liberation Sans" font-size="11" fill="#555" font-weight="normal" text-anchor="start">MN1070</text><g clip-path="url(#gname)"><text x="936.9" y="464.8" font-family="Liberation Sans" font-size="11" fill="#555" font-weight="normal" text-anchor="start" textLength="126" lengthAdjust="spacingAndGlyphs">Review and Approve Tem..</text></g><g transform="translate(731.6,488.8) scale(0.84,1)"><text x="0" y="0" font-family="Liberation Sans" font-size="11" fill="#555" font-weight="normal" text-anchor="start">1.1.8</text></g><text x="800.9" y="488.8" font-family="Liberation Sans" font-size="11" fill="#555" font-weight="normal" text-anchor="start">MN1440</text><g clip-path="url(#gname)"><text x="936.9" y="488.8" font-family="Liberation Sans" font-size="11" fill="#555" font-weight="normal" text-anchor="start" textLength="84" lengthAdjust="spacingAndGlyphs">System Approved</text></g><g transform="translate(731.6,512.8) scale(0.84,1)"><text x="0" y="0" font-family="Liberation Sans" font-size="11" fill="#222" font-weight="bold" text-anchor="start">1.2</text></g><g clip-path="url(#gname)"><text x="919.8" y="512.8" font-family="Liberation Sans" font-size="11" fill="#222" font-weight="bold" text-anchor="start" textLength="85.7" lengthAdjust="spacingAndGlyphs">Hard - Hardware</text></g><path d="M900.8,506.79999999999995 L908.3,506.79999999999995 L904.55,510.29999999999995 Z" fill="#999"/><g transform="translate(731.6,536.8000000000001) scale(0.84,1)"><text x="0" y="0" font-family="Liberation Sans" font-size="11" fill="#555" font-weight="normal" text-anchor="start">1.2.1</text></g><text x="800.9" y="536.8000000000001" font-family="Liberation Sans" font-size="11" fill="#555" font-weight="normal" text-anchor="start">MN1080</text><g clip-path="url(#gname)"><text x="936.9" y="536.8000000000001" font-family="Liberation Sans" font-size="11" fill="#555" font-weight="normal" text-anchor="start" textLength="78" lengthAdjust="spacingAndGlyphs">Site Preparation</text></g><rect x="1327" y="257" width="1.9" height="278" fill="#b8401c"/><path d="M1131.8,315.9 L1152.6,315.9 Q1155.6,315.9 1155.6,318.9 L1155.6,324.6 Q1155.6,327.6 1152.6,327.6 L1111,327.6 Q1108,327.6 1108,330.6 L1108,336.7 Q1108,339.7 1111,339.7 L1124,339.7" fill="none" stroke="#7a7a7a" stroke-width="1.6" stroke-linejoin="round"/><path d="M1122.3,335.09999999999997 L1130.3,339.7 L1122.3,344.3 Z" fill="#7a7a7a"/><path d="M1157.8,340.2 L1179.4,340.2 Q1182.4,340.2 1182.4,343.2 L1182.4,348.6 Q1182.4,351.6 1179.4,351.6 L1129.3,351.6 Q1126.3,351.6 1126.3,354.6 L1126.3,384.9 Q1126.3,387.9 1129.3,387.9 L1143,387.9" fill="none" stroke="#7a7a7a" stroke-width="1.6" stroke-linejoin="round"/><path d="M1126.3,363.6 L1143,363.6" fill="none" stroke="#7a7a7a" stroke-width="1.6" stroke-linejoin="round"/><path d="M1140.5,359.0 L1148.5,363.6 L1140.5,368.20000000000005 Z" fill="#7a7a7a"/><path d="M1140.5,383.29999999999995 L1148.5,387.9 L1140.5,392.5 Z" fill="#7a7a7a"/><path d="M1134.9,351.6 L1134.9,540" fill="none" stroke="#7a7a7a" stroke-width="1.6" stroke-linejoin="round"/><path d="M1161.6,364 L1182.9,364 Q1185.9,364 1185.9,367 L1185.9,373 Q1185.9,376 1182.9,376 L1141.9,376 Q1138.9,376 1138.9,379 L1138.9,540" fill="none" stroke="#7a7a7a" stroke-width="1.6" stroke-linejoin="round"/><path d="M1152.8,388.4 L1174.4,388.4 Q1177.4,388.4 1177.4,391.4 L1177.4,396.4 Q1177.4,399.4 1174.4,399.4 L1132.9,399.4 Q1129.9,399.4 1129.9,402.4 L1129.9,408.8 Q1129.9,411.8 1132.9,411.8 L1146,411.8" fill="none" stroke="#7a7a7a" stroke-width="1.6" stroke-linejoin="round"/><path d="M1144.3,407.2 L1152.3,411.8 L1144.3,416.40000000000003 Z" fill="#7a7a7a"/><path d="M1157.7,412 L1179.3,412 Q1182.3,412 1182.3,415 L1182.3,420.7 Q1182.3,423.7 1179.3,423.7 L1138.9,423.7 Q1135.9,423.7 1135.9,426.7 L1135.9,432.6 Q1135.9,435.6 1138.9,435.6 L1150.5,435.6" fill="none" stroke="#7a7a7a" stroke-width="1.6" stroke-linejoin="round"/><path d="M1148.9,431.0 L1156.9,435.6 L1148.9,440.20000000000005 Z" fill="#7a7a7a"/><path d="M1162.5,436.1 L1183,436.1 Q1186,436.1 1186,439.1 L1186,445 Q1186,448 1183,448 L1142.4,448 Q1139.4,448 1139.4,451 L1139.4,456.4 Q1139.4,459.4 1142.4,459.4 L1154.5,459.4" fill="none" stroke="#7a7a7a" stroke-width="1.6" stroke-linejoin="round"/><path d="M1152.9,454.79999999999995 L1160.9,459.4 L1152.9,464.0 Z" fill="#7a7a7a"/><path d="M1166.6,459.9 L1188.3,459.9 Q1191.3,459.9 1191.3,462.9 L1191.3,468.8 Q1191.3,471.8 1188.3,471.8 L1147.3,471.8 Q1144.3,471.8 1144.3,474.8 L1144.3,540" fill="none" stroke="#7a7a7a" stroke-width="1.6" stroke-linejoin="round"/><path d="M1138.9,528 Q1138.9,531.2 1141.9,531.2 L1155,531.2" fill="none" stroke="#7a7a7a" stroke-width="1.6" stroke-linejoin="round"/><path d="M1153.2,526.6 L1161.2,531.2 L1153.2,535.8000000000001 Z" fill="#7a7a7a"/><path d="M1164.6,531.2 L1185.6,531.2 Q1188.6,531.2 1188.6,534.2 L1188.6,540" fill="none" stroke="#7a7a7a" stroke-width="1.6" stroke-linejoin="round"/><path d="M1284.4,540 L1284.4,486.8 Q1284.4,483.8 1287.4,483.8 L1298,483.8" fill="none" stroke="#7a7a7a" stroke-width="1.6" stroke-linejoin="round"/><path d="M1294,479.2 L1302,483.8 L1294,488.40000000000003 Z" fill="#7a7a7a"/><rect x="1120.4" y="307.4" width="11.399999999999864" height="16.1" fill="#6e6e6e" stroke="#000" stroke-width="1"/><rect x="1120.9" y="307.9" width="10.399999999999864" height="4.5" fill="#f5d52a"/><rect x="1120.4" y="312.4" width="11.399999999999864" height="0.8" fill="#000"/><rect x="1132.3" y="331.4" width="25.5" height="16.1" fill="#6e6e6e" stroke="#000" stroke-width="1"/><rect x="1132.8" y="331.9" width="24.5" height="4.5" fill="#f5d52a"/><rect x="1132.3" y="336.4" width="25.5" height="0.8" fill="#000"/><rect x="1150.4" y="355.4" width="11.199999999999818" height="16.1" fill="#6e6e6e" stroke="#000" stroke-width="1"/><rect x="1150.9" y="355.9" width="10.199999999999818" height="4.5" fill="#f5d52a"/><rect x="1150.4" y="360.4" width="11.199999999999818" height="0.8" fill="#000"/><rect x="1150.3" y="379.4" width="2.5" height="16.1" fill="#6e6e6e" stroke="#000" stroke-width="1"/><rect x="1150.8" y="379.9" width="1.5" height="4.5" fill="#f5d52a"/><rect x="1150.3" y="384.4" width="2.5" height="0.8" fill="#000"/><rect x="1154.2" y="403.4" width="3.5" height="16.1" fill="#6e6e6e" stroke="#000" stroke-width="1"/><rect x="1154.7" y="403.9" width="2.5" height="4.5" fill="#f5d52a"/><rect x="1154.2" y="408.4" width="3.5" height="0.8" fill="#000"/><rect x="1159.2" y="427.4" width="3.2999999999999545" height="16.1" fill="#6e6e6e" stroke="#000" stroke-width="1"/><rect x="1159.7" y="427.9" width="2.2999999999999545" height="4.5" fill="#f5d52a"/><rect x="1159.2" y="432.4" width="3.2999999999999545" height="0.8" fill="#000"/><rect x="1163.2" y="451.4" width="3.3999999999998636" height="16.1" fill="#6e6e6e" stroke="#000" stroke-width="1"/><rect x="1163.7" y="451.9" width="2.3999999999998636" height="4.5" fill="#f5d52a"/><rect x="1163.2" y="456.4" width="3.3999999999998636" height="0.8" fill="#000"/><rect x="1162.6" y="523.8" width="2.0" height="15.7" fill="#6e6e6e" stroke="#000" stroke-width="1"/><rect x="1163.1" y="524.3" width="1.0" height="-0.09999999999999964" fill="#f5d52a"/><rect x="1162.6" y="524.2" width="2.0" height="0.8" fill="#000"/><path d="M1307.5,471.5 L1316.6,480.6 L1307.5,489.7 L1298.4,480.6 Z" fill="#f5d52a" stroke="#222" stroke-width="1"/><rect x="1127.8" y="259.0" width="180.8" height="13.7" fill="#000"/><rect x="1127.8" y="259.8" width="179.8" height="4.3" fill="#f5d523"/><rect x="1127.8" y="264.6" width="179.3" height="7.4" fill="#888"/><path d="M1111.4,262 L1128.8,262 L1128.8,268.5 L1120.1000000000001,277.6 L1111.4,268.5 Z" fill="#c6c6c6"/><path d="M1110.7,257.7 L1128.3,257.7 L1128.3,264 L1119.5,273 L1110.7,264 Z" fill="#888" stroke="#000" stroke-width="1"/><path d="M1300.8999999999999,261.9 L1318.6,261.9 L1318.6,269.9 L1309.4999999999998,279.2 L1300.8999999999999,269.9 Z" fill="#888" stroke="#000" stroke-width="1"/><rect x="1127.8" y="283.0" width="180.8" height="13.7" fill="#000"/><rect x="1127.8" y="283.8" width="179.8" height="4.3" fill="#f5d523"/><rect x="1127.8" y="288.6" width="179.3" height="7.4" fill="#888"/><path d="M1111.4,286 L1128.8,286 L1128.8,292.5 L1120.1000000000001,301.6 L1111.4,292.5 Z" fill="#c6c6c6"/><path d="M1110.7,281.7 L1128.3,281.7 L1128.3,288 L1119.5,297 L1110.7,288 Z" fill="#888" stroke="#000" stroke-width="1"/><path d="M1300.8999999999999,285.9 L1318.6,285.9 L1318.6,293.9 L1309.4999999999998,303.2 L1300.8999999999999,293.9 Z" fill="#888" stroke="#000" stroke-width="1"/><rect x="1167.0" y="499.0" width="94.7" height="13.7" fill="#000"/><rect x="1167.0" y="499.8" width="93.7" height="4.3" fill="#f5d523"/><rect x="1167.0" y="504.6" width="93.2" height="7.4" fill="#888"/><path d="M1150.6000000000001,502 L1168.0,502 L1168.0,508.5 L1159.3000000000002,517.6 L1150.6000000000001,508.5 Z" fill="#c6c6c6"/><path d="M1149.9,497.7 L1167.5,497.7 L1167.5,504 L1158.7,513 L1149.9,504 Z" fill="#888" stroke="#000" stroke-width="1"/><path d="M1254.1,501.9 L1271.8,501.9 L1271.8,509.9 L1262.6999999999998,519.2 L1254.1,509.9 Z" fill="#888" stroke="#000" stroke-width="1"/></g><text x="759" y="215.9" font-family="Liberation Sans" font-size="11.5" fill="#333" font-weight="normal" text-anchor="middle">WBS</text><text x="799.2" y="215.9" font-family="Liberation Sans" font-size="11.9" fill="#333" font-weight="normal" text-anchor="start">Activity Code</text><text x="937.3" y="215.9" font-family="Liberation Sans" font-size="11.9" fill="#333" font-weight="normal" text-anchor="start">Activity Name</text><rect x="724.5" y="255.7" width="678.3" height="1" fill="#dedede"/><rect x="1063.3" y="229.3" width="339.5" height="1" fill="#e4e4e4"/><rect x="793.8" y="202.7" width="1" height="53.5" fill="#e2e2e2"/><rect x="873.8" y="202.7" width="1" height="53.5" fill="#e2e2e2"/><rect x="1062.8" y="202.7" width="1" height="53.5" fill="#e2e2e2"/><rect x="1231" y="202.7" width="1" height="26.600000000000023" fill="#e8e8e8"/><rect x="1119.3" y="229.3" width="1" height="26.899999999999977" fill="#e8e8e8"/><rect x="1175.0" y="229.3" width="1" height="26.899999999999977" fill="#e8e8e8"/><rect x="1230.9" y="229.3" width="1" height="26.899999999999977" fill="#e8e8e8"/><rect x="1288.1" y="229.3" width="1" height="26.899999999999977" fill="#e8e8e8"/><rect x="1344.8" y="229.3" width="1" height="26.899999999999977" fill="#e8e8e8"/><text x="1146.9" y="221.1" font-family="Liberation Sans" font-size="11.5" fill="#333" font-weight="normal" text-anchor="middle">2010</text><text x="1316" y="221.1" font-family="Liberation Sans" font-size="11.5" fill="#333" font-weight="normal" text-anchor="middle">2011</text><text x="1091.5" y="248.4" font-family="Liberation Sans" font-size="11.5" fill="#333" font-weight="normal" text-anchor="middle">Q2</text><text x="1147.6" y="248.4" font-family="Liberation Sans" font-size="11.5" fill="#333" font-weight="normal" text-anchor="middle">Q3</text><text x="1203.4" y="248.4" font-family="Liberation Sans" font-size="11.5" fill="#333" font-weight="normal" text-anchor="middle">Q4</text><text x="1260" y="248.4" font-family="Liberation Sans" font-size="11.5" fill="#333" font-weight="normal" text-anchor="middle">Q1</text><text x="1317" y="248.4" font-family="Liberation Sans" font-size="11.5" fill="#333" font-weight="normal" text-anchor="middle">Q2</text><text x="1374" y="248.4" font-family="Liberation Sans" font-size="11.5" fill="#333" font-weight="normal" text-anchor="middle">Q3</text><rect x="724.0" y="202.7" width="1" height="347.8" fill="#e0e0e0"/><rect x="724.5" y="202.2" width="678.3" height="1" fill="#e4e4e4"/><rect x="1402.8" y="202.7" width="16.700000000000045" height="347.8" fill="#fff"/><path d="M1410.5,210.5 L1415.5,216.5 L1405.5,216.5 Z" fill="#999"/><rect x="1406.3" y="226.7" width="8.6" height="75" rx="4.3" fill="#8e8e8e"/><path d="M1410.5,543 L1415.5,537 L1405.5,537 Z" fill="#999"/><rect x="724.5" y="535" width="678.3" height="15.5" fill="#fafafa"/><path d="M733.3,543.5 L739.5,539.8 L739.5,547.3 Z" fill="#999"/><rect x="748.2" y="539.5" width="100.5" height="8.6" rx="4.3" fill="#8e8e8e"/><path d="M1054.5,543.5 L1048.3,539.8 L1048.3,547.3 Z" fill="#999"/><path d="M1072.5,543.5 L1078.7,539.8 L1078.7,547.3 Z" fill="#999"/><path d="M1394.5,543.5 L1388.3,539.8 L1388.3,547.3 Z" fill="#999"/><rect x="1062.8" y="535" width="1" height="15.5" fill="#eee"/><rect x="724.5" y="550" width="695.0" height="1" fill="#e4e4e4"/></svg><svg class="s" style="left:1037.6px;top:174.2px" width="14" height="15" viewBox="0 0 14 15"><rect x="0.8" y="2.5" width="12.4" height="11.5" rx="1.5" fill="none" stroke="#5e5e5e" stroke-width="1.4"/><rect x="0.8" y="2.5" width="12.4" height="3" fill="#5e5e5e"/><rect x="3" y="0.5" width="1.4" height="3" fill="#5e5e5e"/><rect x="9.6" y="0.5" width="1.4" height="3" fill="#5e5e5e"/><g fill="#5e5e5e"><rect x="3" y="7.3" width="1.6" height="1.4"/><rect x="6.2" y="7.3" width="1.6" height="1.4"/><rect x="9.4" y="7.3" width="1.6" height="1.4"/><rect x="3" y="10.3" width="1.6" height="1.4"/><rect x="6.2" y="10.3" width="1.6" height="1.4"/><rect x="9.4" y="10.3" width="1.6" height="1.4"/></g></svg><svg class="s" style="left:1181px;top:174.2px" width="14" height="15" viewBox="0 0 14 15"><rect x="0.8" y="2.5" width="12.4" height="11.5" rx="1.5" fill="none" stroke="#5e5e5e" stroke-width="1.4"/><rect x="0.8" y="2.5" width="12.4" height="3" fill="#5e5e5e"/><rect x="3" y="0.5" width="1.4" height="3" fill="#5e5e5e"/><rect x="9.6" y="0.5" width="1.4" height="3" fill="#5e5e5e"/><g fill="#5e5e5e"><rect x="3" y="7.3" width="1.6" height="1.4"/><rect x="6.2" y="7.3" width="1.6" height="1.4"/><rect x="9.4" y="7.3" width="1.6" height="1.4"/><rect x="3" y="10.3" width="1.6" height="1.4"/><rect x="6.2" y="10.3" width="1.6" height="1.4"/><rect x="9.4" y="10.3" width="1.6" height="1.4"/></g></svg><svg class="s" style="left:1356px;top:170.8px" width="18" height="22.4" viewBox="0 0 18 22.4"><path d="M0,0 L12.1,0 L18,5.6 L18,22.4 L0,22.4 Z" fill="#e9611c"/><path d="M12.1,0 L18,5.6 L12.1,5.6 Z" fill="#f7d3c0"/><g transform="translate(8.46,14.78) scale(1.047,1.018)" fill="none" stroke="#fff" stroke-width="1.6" stroke-linecap="round"><path d="M0,-6 Q0.6,-3 0,0"/><path d="M0,0 L-3.6,3.5"/><path d="M0,0 Q3,0.2 5.8,1"/></g></svg><svg class="s" style="left:1216px;top:127.3px" width="21" height="20" viewBox="0 0 21 20"><line x1="11.5" y1="11.5" x2="19.5" y2="19" stroke="#3a3f48" stroke-width="2.8" stroke-linecap="round"/><circle cx="7.5" cy="7.5" r="6.8" fill="#5d9ff3" stroke="#40536e" stroke-width="1.5"/><rect x="4.3" y="6.6" width="6.4" height="1.8" fill="#fff"/><rect x="6.6" y="4.3" width="1.8" height="6.4" fill="#fff"/></svg><svg class="s" style="left:1250px;top:127.3px" width="21" height="20" viewBox="0 0 21 20"><line x1="11.5" y1="11.5" x2="19.5" y2="19" stroke="#3a3f48" stroke-width="2.8" stroke-linecap="round"/><circle cx="7.5" cy="7.5" r="6.8" fill="#5d9ff3" stroke="#40536e" stroke-width="1.5"/><rect x="4.3" y="6.6" width="6.4" height="1.8" fill="#fff"/></svg><svg class="s" style="left:1284px;top:127.3px" width="21" height="20" viewBox="0 0 21 20"><line x1="11.5" y1="11.5" x2="19.5" y2="19" stroke="#3a3f48" stroke-width="2.8" stroke-linecap="round"/><circle cx="7.5" cy="7.5" r="6.8" fill="#5d9ff3" stroke="#40536e" stroke-width="1.5"/><g fill="none" stroke="#fff" stroke-width="1.1"><path d="M4.5,4.5 L10.5,10.5 M10.5,4.5 L4.5,10.5"/><path d="M4.3,6.5 L4.3,4.3 L6.5,4.3 M8.5,4.3 L10.7,4.3 L10.7,6.5 M10.7,8.5 L10.7,10.7 L8.5,10.7 M6.5,10.7 L4.3,10.7 L4.3,8.5"/></g></svg><svg class="s" style="left:1392px;top:127.4px" width="22" height="19" viewBox="0 0 22 19"><rect x="1" y="1" width="20" height="16.5" fill="#eef3fb" stroke="#4a8ad8" stroke-width="2"/><rect x="0" y="0" width="22" height="5.2" fill="#4a8ad8"/></svg>
<svg class="s" style="left:10px;top:617px" width="697" height="385" viewBox="10 617 697 385"><defs><linearGradient id="bgAR" x1="0" x2="1" y1="0" y2="0"><stop offset="0" stop-color="#c9473a"/><stop offset="0.35" stop-color="#e07060"/><stop offset="1" stop-color="#c9473a"/></linearGradient><linearGradient id="bgAD" x1="0" x2="1" y1="0" y2="0"><stop offset="0" stop-color="#7aa5f2"/><stop offset="0.35" stop-color="#9cc0fb"/><stop offset="1" stop-color="#7aa5f2"/></linearGradient><linearGradient id="bgEL" x1="0" x2="1" y1="0" y2="0"><stop offset="0" stop-color="#fbef8c"/><stop offset="0.35" stop-color="#fdf7b8"/><stop offset="1" stop-color="#fbef8c"/></linearGradient><linearGradient id="bgFA" x1="0" x2="1" y1="0" y2="0"><stop offset="0" stop-color="#68d455"/><stop offset="0.35" stop-color="#8ae27a"/><stop offset="1" stop-color="#68d455"/></linearGradient><linearGradient id="bgFE" x1="0" x2="1" y1="0" y2="0"><stop offset="0" stop-color="#6a17ee"/><stop offset="0.35" stop-color="#8a40ff"/><stop offset="1" stop-color="#6a17ee"/></linearGradient><linearGradient id="bgFS" x1="0" x2="1" y1="0" y2="0"><stop offset="0" stop-color="#eda55a"/><stop offset="0.35" stop-color="#f5c080"/><stop offset="1" stop-color="#eda55a"/></linearGradient><linearGradient id="bgJY" x1="0" x2="1" y1="0" y2="0"><stop offset="0" stop-color="#855a5a"/><stop offset="0.35" stop-color="#a07878"/><stop offset="1" stop-color="#855a5a"/></linearGradient><linearGradient id="bgOM" x1="0" x2="1" y1="0" y2="0"><stop offset="0" stop-color="#a3b393"/><stop offset="0.35" stop-color="#c0ccb0"/><stop offset="1" stop-color="#a3b393"/></linearGradient><linearGradient id="bgPK" x1="0" x2="1" y1="0" y2="0"><stop offset="0" stop-color="#5cc2f5"/><stop offset="0.35" stop-color="#88d6fb"/><stop offset="1" stop-color="#5cc2f5"/></linearGradient><linearGradient id="bgPL" x1="0" x2="1" y1="0" y2="0"><stop offset="0" stop-color="#d6f6fb"/><stop offset="0.35" stop-color="#eafcff"/><stop offset="1" stop-color="#d6f6fb"/></linearGradient><linearGradient id="bgPC" x1="0" x2="1" y1="0" y2="0"><stop offset="0" stop-color="#d2f5cf"/><stop offset="0.35" stop-color="#e6fbe3"/><stop offset="1" stop-color="#d2f5cf"/></linearGradient><linearGradient id="bgWR" x1="0" x2="1" y1="0" y2="0"><stop offset="0" stop-color="#fdf79c"/><stop offset="0.35" stop-color="#fffbc8"/><stop offset="1" stop-color="#fdf79c"/></linearGradient></defs><rect x="67.10" y="629.6" width="1" height="350.5" fill="#e6e6e6"/><rect x="108.02" y="629.6" width="1" height="350.5" fill="#e6e6e6"/><rect x="148.94" y="629.6" width="1" height="350.5" fill="#e6e6e6"/><rect x="189.86" y="629.6" width="1" height="350.5" fill="#e6e6e6"/><rect x="230.78" y="629.6" width="1" height="350.5" fill="#e6e6e6"/><rect x="271.70" y="629.6" width="1" height="350.5" fill="#e6e6e6"/><rect x="312.62" y="629.6" width="1" height="350.5" fill="#e6e6e6"/><rect x="353.54" y="629.6" width="1" height="350.5" fill="#e6e6e6"/><rect x="394.46" y="629.6" width="1" height="350.5" fill="#e6e6e6"/><rect x="435.38" y="629.6" width="1" height="350.5" fill="#e6e6e6"/><rect x="476.30" y="629.6" width="1" height="350.5" fill="#e6e6e6"/><rect x="517.22" y="629.6" width="1" height="350.5" fill="#e6e6e6"/><rect x="61.599999999999994" y="973.60" width="456.1" height="1" fill="#e6e6e6"/><text x="57.2" y="977.7" font-family="Liberation Sans" font-size="10" fill="#222" text-anchor="end">0</text><rect x="61.599999999999994" y="920.65" width="456.1" height="1" fill="#e6e6e6"/><text x="57.2" y="924.8" font-family="Liberation Sans" font-size="10" fill="#222" text-anchor="end">100</text><rect x="61.599999999999994" y="867.70" width="456.1" height="1" fill="#e6e6e6"/><text x="57.2" y="871.8" font-family="Liberation Sans" font-size="10" fill="#222" text-anchor="end">200</text><rect x="61.599999999999994" y="814.75" width="456.1" height="1" fill="#e6e6e6"/><text x="57.2" y="818.9" font-family="Liberation Sans" font-size="10" fill="#222" text-anchor="end">300</text><rect x="61.599999999999994" y="761.80" width="456.1" height="1" fill="#e6e6e6"/><text x="57.2" y="765.9" font-family="Liberation Sans" font-size="10" fill="#222" text-anchor="end">400</text><rect x="61.599999999999994" y="708.85" width="456.1" height="1" fill="#e6e6e6"/><text x="57.2" y="713.0" font-family="Liberation Sans" font-size="10" fill="#222" text-anchor="end">500</text><rect x="61.599999999999994" y="655.90" width="456.1" height="1" fill="#e6e6e6"/><text x="57.2" y="660.0" font-family="Liberation Sans" font-size="10" fill="#222" text-anchor="end">600</text><rect x="517.2" y="629.6" width="1" height="344.5" fill="#cfcfcf"/><rect x="517.7" y="629.1" width="5" height="1" fill="#bbb"/><rect x="517.7" y="973.6" width="5" height="1" fill="#bbb"/><text x="526.5" y="633.4" font-family="Liberation Sans" font-size="10" fill="#222">1</text><text x="526.5" y="977.9" font-family="Liberation Sans" font-size="10" fill="#222">0</text><rect x="79.20" y="938.09" width="16.6" height="36.01" fill="url(#bgWR)" stroke="rgba(60,60,60,0.45)" stroke-width="0.8"/><rect x="79.20" y="925.39" width="16.6" height="12.71" fill="url(#bgPK)" stroke="rgba(60,60,60,0.45)" stroke-width="0.8"/><rect x="79.20" y="853.90" width="16.6" height="71.48" fill="url(#bgJY)" stroke="rgba(60,60,60,0.45)" stroke-width="0.8"/><text x="87.5" y="994" font-family="Liberation Sans" font-size="10" fill="#333" text-anchor="middle">Jul</text><rect x="120.12" y="909.24" width="16.6" height="64.86" fill="url(#bgWR)" stroke="rgba(60,60,60,0.45)" stroke-width="0.8"/><rect x="120.12" y="802.54" width="16.6" height="106.69" fill="url(#bgPK)" stroke="rgba(60,60,60,0.45)" stroke-width="0.8"/><rect x="120.12" y="693.47" width="16.6" height="109.08" fill="url(#bgJY)" stroke="rgba(60,60,60,0.45)" stroke-width="0.8"/><rect x="120.12" y="677.58" width="16.6" height="15.88" fill="url(#bgAD)" stroke="rgba(60,60,60,0.45)" stroke-width="0.8"/><rect x="120.12" y="642.79" width="16.6" height="34.79" fill="url(#bgAR)" stroke="rgba(60,60,60,0.45)" stroke-width="0.8"/><text x="128.4" y="994" font-family="Liberation Sans" font-size="10" fill="#333" text-anchor="middle">Aug</text><rect x="161.04" y="934.18" width="16.6" height="39.92" fill="url(#bgWR)" stroke="rgba(60,60,60,0.45)" stroke-width="0.8"/><rect x="161.04" y="873.50" width="16.6" height="60.68" fill="url(#bgPC)" stroke="rgba(60,60,60,0.45)" stroke-width="0.8"/><rect x="161.04" y="836.17" width="16.6" height="37.33" fill="url(#bgPL)" stroke="rgba(60,60,60,0.45)" stroke-width="0.8"/><rect x="161.04" y="828.49" width="16.6" height="7.68" fill="url(#bgPK)" stroke="rgba(60,60,60,0.45)" stroke-width="0.8"/><rect x="161.04" y="774.74" width="16.6" height="53.74" fill="url(#bgJY)" stroke="rgba(60,60,60,0.45)" stroke-width="0.8"/><rect x="161.04" y="773.15" width="16.6" height="1.59" fill="url(#bgFS)" stroke="rgba(60,60,60,0.45)" stroke-width="0.8"/><rect x="161.04" y="759.33" width="16.6" height="13.82" fill="url(#bgFA)" stroke="rgba(60,60,60,0.45)" stroke-width="0.8"/><rect x="161.04" y="722.38" width="16.6" height="36.96" fill="url(#bgEL)" stroke="rgba(60,60,60,0.45)" stroke-width="0.8"/><rect x="161.04" y="662.01" width="16.6" height="60.36" fill="url(#bgAD)" stroke="rgba(60,60,60,0.45)" stroke-width="0.8"/><text x="169.3" y="994" font-family="Liberation Sans" font-size="10" fill="#333" text-anchor="middle">Sep</text><rect x="201.96" y="898.38" width="16.6" height="75.72" fill="url(#bgPC)" stroke="rgba(60,60,60,0.45)" stroke-width="0.8"/><rect x="201.96" y="881.97" width="16.6" height="16.41" fill="url(#bgPL)" stroke="rgba(60,60,60,0.45)" stroke-width="0.8"/><rect x="201.96" y="877.73" width="16.6" height="4.24" fill="url(#bgOM)" stroke="rgba(60,60,60,0.45)" stroke-width="0.8"/><rect x="201.96" y="866.93" width="16.6" height="10.80" fill="url(#bgFE)" stroke="rgba(60,60,60,0.45)" stroke-width="0.8"/><rect x="201.96" y="830.39" width="16.6" height="36.54" fill="url(#bgEL)" stroke="rgba(60,60,60,0.45)" stroke-width="0.8"/><rect x="201.96" y="727.35" width="16.6" height="103.04" fill="url(#bgAD)" stroke="rgba(60,60,60,0.45)" stroke-width="0.8"/><text x="210.3" y="994" font-family="Liberation Sans" font-size="10" fill="#333" text-anchor="middle">Oct</text><rect x="242.88" y="953.45" width="16.6" height="20.65" fill="url(#bgOM)" stroke="rgba(60,60,60,0.45)" stroke-width="0.8"/><rect x="242.88" y="903.46" width="16.6" height="49.98" fill="url(#bgFE)" stroke="rgba(60,60,60,0.45)" stroke-width="0.8"/><rect x="242.88" y="870.85" width="16.6" height="32.62" fill="url(#bgEL)" stroke="rgba(60,60,60,0.45)" stroke-width="0.8"/><rect x="242.88" y="784.33" width="16.6" height="86.52" fill="url(#bgAD)" stroke="rgba(60,60,60,0.45)" stroke-width="0.8"/><text x="251.2" y="994" font-family="Liberation Sans" font-size="10" fill="#333" text-anchor="middle">Nov</text><rect x="283.80" y="972.51" width="16.6" height="1.59" fill="url(#bgWR)" stroke="rgba(60,60,60,0.45)" stroke-width="0.8"/><rect x="283.80" y="937.04" width="16.6" height="35.48" fill="url(#bgFS)" stroke="rgba(60,60,60,0.45)" stroke-width="0.8"/><rect x="283.80" y="928.56" width="16.6" height="8.47" fill="url(#bgFE)" stroke="rgba(60,60,60,0.45)" stroke-width="0.8"/><rect x="283.80" y="923.48" width="16.6" height="5.08" fill="url(#bgEL)" stroke="rgba(60,60,60,0.45)" stroke-width="0.8"/><rect x="283.80" y="908.97" width="16.6" height="14.51" fill="url(#bgAD)" stroke="rgba(60,60,60,0.45)" stroke-width="0.8"/><text x="292.1" y="994" font-family="Liberation Sans" font-size="10" fill="#333" text-anchor="middle">Dec</text><rect x="324.72" y="920.36" width="16.6" height="53.74" fill="url(#bgWR)" stroke="rgba(60,60,60,0.45)" stroke-width="0.8"/><rect x="324.72" y="856.18" width="16.6" height="64.18" fill="url(#bgFS)" stroke="rgba(60,60,60,0.45)" stroke-width="0.8"/><rect x="324.72" y="820.76" width="16.6" height="35.42" fill="url(#bgFE)" stroke="rgba(60,60,60,0.45)" stroke-width="0.8"/><rect x="324.72" y="803.60" width="16.6" height="17.16" fill="url(#bgFA)" stroke="rgba(60,60,60,0.45)" stroke-width="0.8"/><text x="333.0" y="994" font-family="Liberation Sans" font-size="10" fill="#333" text-anchor="middle">Jan</text><rect x="365.64" y="954.19" width="16.6" height="19.91" fill="url(#bgWR)" stroke="rgba(60,60,60,0.45)" stroke-width="0.8"/><rect x="365.64" y="942.65" width="16.6" height="11.54" fill="url(#bgFS)" stroke="rgba(60,60,60,0.45)" stroke-width="0.8"/><rect x="365.64" y="918.03" width="16.6" height="24.62" fill="url(#bgFE)" stroke="rgba(60,60,60,0.45)" stroke-width="0.8"/><rect x="365.64" y="876.51" width="16.6" height="41.51" fill="url(#bgAR)" stroke="rgba(60,60,60,0.45)" stroke-width="0.8"/><text x="373.9" y="994" font-family="Liberation Sans" font-size="10" fill="#333" text-anchor="middle">Feb</text><rect x="406.56" y="818.96" width="16.6" height="155.14" fill="url(#bgAR)" stroke="rgba(60,60,60,0.45)" stroke-width="0.8"/><text x="414.9" y="994" font-family="Liberation Sans" font-size="10" fill="#333" text-anchor="middle">Mar</text><rect x="447.48" y="953.45" width="16.6" height="20.65" fill="url(#bgWR)" stroke="rgba(60,60,60,0.45)" stroke-width="0.8"/><rect x="447.48" y="928.03" width="16.6" height="25.42" fill="url(#bgAR)" stroke="rgba(60,60,60,0.45)" stroke-width="0.8"/><text x="455.8" y="994" font-family="Liberation Sans" font-size="10" fill="#333" text-anchor="middle">Apr</text><text x="496.7" y="994" font-family="Liberation Sans" font-size="10" fill="#333" text-anchor="middle">May</text><rect x="87.5" y="973.0" width="409.1" height="2.2" fill="#111"/><text transform="translate(28.7,800.5) rotate(-90)" font-family="Liberation Sans" font-size="12" fill="#222" text-anchor="middle">At Completion Labour Units</text><text transform="translate(555.2,802.2) rotate(-90)" font-family="Liberation Sans" font-size="11.6" fill="#222" text-anchor="middle">Resource Capacity Work</text><rect x="570.1" y="662.3" width="12.3" height="12.2" rx="2" fill="#3b7ae6"/><path d="M572.7,668.4 L575.5,671.2 L580.1,665.4" fill="none" stroke="#fff" stroke-width="1.8"/><text x="586.5" y="672" font-family="Liberation Sans" font-size="11.4" fill="#333">Legend</text><rect x="570" y="678" width="137" height="1" fill="#e8e8e8"/><defs><clipPath id="lgclip"><rect x="560" y="680" width="140.5" height="270"/></clipPath></defs><g clip-path="url(#lgclip)"><rect x="569.8" y="686.0" width="14" height="13.7" fill="#c9473a"/><text x="588.2" y="697.0" font-family="Liberation Sans" font-size="13.5" fill="#222">Activity Resource</text><rect x="569.8" y="706.1" width="14" height="13.7" fill="#7aa5f2"/><text x="588.2" y="717.1" font-family="Liberation Sans" font-size="13.5" fill="#222">Administrator</text><rect x="569.8" y="726.1" width="14" height="13.7" fill="#fbef8c"/><text x="588.2" y="737.1" font-family="Liberation Sans" font-size="13.5" fill="#222">Electrician</text><rect x="569.8" y="746.2" width="14" height="13.7" fill="#68d455"/><text x="588.2" y="757.2" font-family="Liberation Sans" font-size="13.5" fill="#222">Field Eng-Assistant</text><rect x="569.8" y="766.3" width="14" height="13.7" fill="#6a17ee"/><text x="588.2" y="777.3" font-family="Liberation Sans" font-size="13.5" fill="#222">Field Engineer</text><rect x="569.8" y="786.4" width="14" height="13.7" fill="#eda55a"/><text x="588.2" y="797.4" font-family="Liberation Sans" font-size="13.5" fill="#222">Field Eng-Senior</text><rect x="569.8" y="806.4" width="14" height="13.7" fill="#855a5a"/><text x="588.2" y="817.4" font-family="Liberation Sans" font-size="13.5" fill="#222">Jeff Young</text><rect x="569.8" y="826.5" width="14" height="13.7" fill="#a3b393"/><text x="588.2" y="837.5" font-family="Liberation Sans" font-size="13.5" fill="#222">Owen McGuire, Pr</text><rect x="569.8" y="846.6" width="14" height="13.7" fill="#5cc2f5"/><text x="588.2" y="857.6" font-family="Liberation Sans" font-size="13.5" fill="#222">Paul Kim</text><rect x="569.8" y="866.6" width="14" height="13.7" fill="#d6f6fb"/><text x="588.2" y="877.6" font-family="Liberation Sans" font-size="13.5" fill="#222">Plumber</text><rect x="569.8" y="886.7" width="14" height="13.7" fill="#d2f5cf"/><text x="588.2" y="897.7" font-family="Liberation Sans" font-size="13.5" fill="#222">Project Controls</text><rect x="569.8" y="906.8" width="14" height="13.7" fill="#fdf79c"/><text x="588.2" y="917.8" font-family="Liberation Sans" font-size="13.5" fill="#222">Wendy Resner</text><circle cx="576.8" cy="933.6" r="6.3" fill="#000"/><text x="588.2" y="937.8" font-family="Liberation Sans" font-size="13.5" fill="#222">Resource Capacity</text></g><rect x="570.1" y="945.6" width="131" height="14.4" fill="#fafafa"/><path d="M578.3,952.1 L584,948.5 L584,955.8 Z" fill="#999"/><rect x="592.7" y="948" width="51.2" height="8.2" rx="4.1" fill="#8e8e8e"/><path d="M692.7,952.1 L687,948.5 L687,955.8 Z" fill="#999"/></svg>
<svg class="s" style="left:724px;top:617px" width="697" height="385" viewBox="724 617 697 385"><rect x="780.60" y="629.6" width="1" height="351.0" fill="#e4e4e4"/><rect x="820.10" y="629.6" width="1" height="351.0" fill="#e4e4e4"/><rect x="859.60" y="629.6" width="1" height="351.0" fill="#e4e4e4"/><rect x="899.10" y="629.6" width="1" height="351.0" fill="#e4e4e4"/><rect x="938.60" y="629.6" width="1" height="351.0" fill="#e4e4e4"/><rect x="978.10" y="629.6" width="1" height="351.0" fill="#e4e4e4"/><rect x="1017.60" y="629.6" width="1" height="351.0" fill="#e4e4e4"/><rect x="1057.10" y="629.6" width="1" height="351.0" fill="#e4e4e4"/><rect x="1096.60" y="629.6" width="1" height="351.0" fill="#e4e4e4"/><rect x="1136.10" y="629.6" width="1" height="351.0" fill="#e4e4e4"/><rect x="1175.60" y="629.6" width="1" height="351.0" fill="#e4e4e4"/><rect x="1215.10" y="629.6" width="1" height="351.0" fill="#e4e4e4"/><rect x="775.1" y="974.10" width="440.4999999999999" height="1" fill="#e4e4e4"/><text x="771" y="978.2" font-family="Liberation Sans" font-size="10" fill="#222" text-anchor="end">0</text><rect x="775.1" y="916.60" width="440.4999999999999" height="1" fill="#e4e4e4"/><text x="771" y="920.7" font-family="Liberation Sans" font-size="10" fill="#222" text-anchor="end">100</text><rect x="775.1" y="859.10" width="440.4999999999999" height="1" fill="#e4e4e4"/><text x="771" y="863.2" font-family="Liberation Sans" font-size="10" fill="#222" text-anchor="end">200</text><rect x="775.1" y="801.60" width="440.4999999999999" height="1" fill="#e4e4e4"/><text x="771" y="805.7" font-family="Liberation Sans" font-size="10" fill="#222" text-anchor="end">300</text><rect x="775.1" y="744.10" width="440.4999999999999" height="1" fill="#e4e4e4"/><text x="771" y="748.2" font-family="Liberation Sans" font-size="10" fill="#222" text-anchor="end">400</text><rect x="775.1" y="686.60" width="440.4999999999999" height="1" fill="#e4e4e4"/><text x="771" y="690.7" font-family="Liberation Sans" font-size="10" fill="#222" text-anchor="end">500</text><rect x="775.1" y="629.10" width="440.4999999999999" height="1" fill="#e4e4e4"/><text x="771" y="633.2" font-family="Liberation Sans" font-size="10" fill="#222" text-anchor="end">600</text><rect x="1215.6" y="974.10" width="5" height="1" fill="#ccc"/><text x="1223.6" y="978.2" font-family="Liberation Sans" font-size="10" fill="#222">0</text><rect x="1215.6" y="924.81" width="5" height="1" fill="#ccc"/><text x="1223.6" y="928.9" font-family="Liberation Sans" font-size="10" fill="#222">500</text><rect x="1215.6" y="875.53" width="5" height="1" fill="#ccc"/><text x="1223.6" y="879.6" font-family="Liberation Sans" font-size="10" fill="#222">1000</text><rect x="1215.6" y="826.24" width="5" height="1" fill="#ccc"/><text x="1223.6" y="830.3" font-family="Liberation Sans" font-size="10" fill="#222">1500</text><rect x="1215.6" y="776.96" width="5" height="1" fill="#ccc"/><text x="1223.6" y="781.1" font-family="Liberation Sans" font-size="10" fill="#222">2000</text><rect x="1215.6" y="727.67" width="5" height="1" fill="#ccc"/><text x="1223.6" y="731.8" font-family="Liberation Sans" font-size="10" fill="#222">2500</text><rect x="1215.6" y="678.39" width="5" height="1" fill="#ccc"/><text x="1223.6" y="682.5" font-family="Liberation Sans" font-size="10" fill="#222">3000</text><rect x="1215.6" y="629.10" width="5" height="1" fill="#ccc"/><text x="1223.6" y="633.2" font-family="Liberation Sans" font-size="10" fill="#222">3500</text><rect x="1215.1" y="629.6" width="1" height="345.0" fill="#cfcfcf"/><rect x="780.6" y="629.6" width="1" height="345.0" fill="#d8d8d8"/><rect x="788.45" y="843.15" width="7.5" height="131.44" fill="#7ff3f7" stroke="#4fb7c0" stroke-width="0.8"/><rect x="798.35" y="847.53" width="7.5" height="127.07" fill="#6f8fd6" stroke="#3f5ea8" stroke-width="0.8"/><text x="800.9" y="993.5" font-family="Liberation Sans" font-size="10" fill="#333" text-anchor="middle">Jul.10</text><rect x="827.95" y="644.55" width="7.5" height="330.05" fill="#7ff3f7" stroke="#4fb7c0" stroke-width="0.8"/><rect x="837.85" y="652.20" width="7.5" height="322.40" fill="#6f8fd6" stroke="#3f5ea8" stroke-width="0.8"/><rect x="848.05" y="956.32" width="7.5" height="18.29" fill="#e0481a" stroke="#a83010" stroke-width="0.8"/><text x="840.4" y="993.5" font-family="Liberation Sans" font-size="10" fill="#333" text-anchor="middle">Aug.10</text><rect x="867.45" y="636.62" width="7.5" height="337.98" fill="#7ff3f7" stroke="#4fb7c0" stroke-width="0.8"/><rect x="877.35" y="649.50" width="7.5" height="325.10" fill="#6f8fd6" stroke="#3f5ea8" stroke-width="0.8"/><text x="879.9" y="993.5" font-family="Liberation Sans" font-size="10" fill="#333" text-anchor="middle">Sep.10</text><rect x="906.95" y="861.04" width="7.5" height="113.56" fill="#7ff3f7" stroke="#4fb7c0" stroke-width="0.8"/><rect x="916.85" y="888.35" width="7.5" height="86.25" fill="#6f8fd6" stroke="#3f5ea8" stroke-width="0.8"/><text x="919.4" y="993.5" font-family="Liberation Sans" font-size="10" fill="#333" text-anchor="middle">Oct.10</text><rect x="946.45" y="783.12" width="7.5" height="191.47" fill="#7ff3f7" stroke="#4fb7c0" stroke-width="0.8"/><rect x="956.35" y="779.33" width="7.5" height="195.27" fill="#6f8fd6" stroke="#3f5ea8" stroke-width="0.8"/><text x="958.9" y="993.5" font-family="Liberation Sans" font-size="10" fill="#333" text-anchor="middle">Nov.10</text><rect x="985.95" y="751.50" width="7.5" height="223.10" fill="#7ff3f7" stroke="#4fb7c0" stroke-width="0.8"/><rect x="995.85" y="753.23" width="7.5" height="221.37" fill="#6f8fd6" stroke="#3f5ea8" stroke-width="0.8"/><text x="998.4" y="993.5" font-family="Liberation Sans" font-size="10" fill="#333" text-anchor="middle">Dec.10</text><rect x="1025.45" y="873.11" width="7.5" height="101.49" fill="#7ff3f7" stroke="#4fb7c0" stroke-width="0.8"/><rect x="1035.35" y="881.62" width="7.5" height="92.98" fill="#6f8fd6" stroke="#3f5ea8" stroke-width="0.8"/><text x="1037.8" y="993.5" font-family="Liberation Sans" font-size="10" fill="#333" text-anchor="middle">Jan.11</text><rect x="1064.95" y="814.40" width="7.5" height="160.19" fill="#7ff3f7" stroke="#4fb7c0" stroke-width="0.8"/><rect x="1074.85" y="818.32" width="7.5" height="156.28" fill="#6f8fd6" stroke="#3f5ea8" stroke-width="0.8"/><text x="1077.3" y="993.5" font-family="Liberation Sans" font-size="10" fill="#333" text-anchor="middle">Feb.11</text><rect x="1104.45" y="900.43" width="7.5" height="74.17" fill="#7ff3f7" stroke="#4fb7c0" stroke-width="0.8"/><rect x="1114.35" y="906.87" width="7.5" height="67.73" fill="#6f8fd6" stroke="#3f5ea8" stroke-width="0.8"/><rect x="1124.55" y="947.06" width="7.5" height="27.54" fill="#e0481a" stroke="#a83010" stroke-width="0.8"/><text x="1116.8" y="993.5" font-family="Liberation Sans" font-size="10" fill="#333" text-anchor="middle">Mar.11</text><rect x="1143.95" y="905.03" width="7.5" height="69.57" fill="#7ff3f7" stroke="#4fb7c0" stroke-width="0.8"/><rect x="1153.85" y="871.10" width="7.5" height="103.50" fill="#6f8fd6" stroke="#3f5ea8" stroke-width="0.8"/><rect x="1164.05" y="902.26" width="7.5" height="72.33" fill="#e0481a" stroke="#a83010" stroke-width="0.8"/><text x="1156.3" y="993.5" font-family="Liberation Sans" font-size="10" fill="#333" text-anchor="middle">Apr.11</text><rect x="1183.45" y="964.25" width="7.5" height="10.35" fill="#7ff3f7" stroke="#4fb7c0" stroke-width="0.8"/><rect x="1193.35" y="949.88" width="7.5" height="24.72" fill="#6f8fd6" stroke="#3f5ea8" stroke-width="0.8"/><rect x="1203.55" y="952.87" width="7.5" height="21.73" fill="#e0481a" stroke="#a83010" stroke-width="0.8"/><text x="1195.8" y="993.5" font-family="Liberation Sans" font-size="10" fill="#333" text-anchor="middle">May.11</text><line x1="800.9" y1="675.4" x2="1195.8" y2="675.4" stroke="#7ae9f5" stroke-width="2.3" stroke-dasharray="16,7"/><polyline points="800.9,974.1 840.4,970.7 879.9,970.7 919.4,970.7 958.9,970.7 998.4,970.7 1037.8,970.7 1077.3,970.7 1116.8,967.2 1156.3,952.9 1195.8,949.8" fill="none" stroke="#d2401c" stroke-width="2.4" stroke-linejoin="round"/><polyline points="800.9,950.5 840.4,895.5 879.9,837.6 919.4,818.2 958.9,785.3 998.4,746.7 1037.8,728.8 1077.3,701.5 1116.8,689.0 1156.3,676.5 1195.8,675.4" fill="none" stroke="#7aeefa" stroke-width="2.1" stroke-linejoin="round"/><polyline points="800.9,952.8 840.4,897.5 879.9,841.8 919.4,827.0 958.9,793.5 998.4,753.2 1037.8,738.8 1077.3,710.4 1116.8,698.7 1156.3,684.4 1195.8,678.6" fill="none" stroke="#5b78c4" stroke-width="2.4" stroke-dasharray="15,7,2.5,6,2.5,7" stroke-linejoin="round"/><text transform="translate(742,802.5) rotate(-90)" font-family="Liberation Sans" font-size="11.7" fill="#222" text-anchor="middle">Period/Histogram Values</text><text transform="translate(1269,801.8) rotate(-90)" font-family="Liberation Sans" font-size="11.5" fill="#222" text-anchor="middle">Cumulative Values</text><rect x="1283.1" y="751.2" width="12.6" height="12.1" rx="2" fill="#3b7ae6"/><path d="M1285.8,757.3 L1288.6,760.1 L1293.2,754.3" fill="none" stroke="#fff" stroke-width="1.8"/><text x="1299.6" y="760.8" font-family="Liberation Sans" font-size="11.4" fill="#333">Legend</text><rect x="1283" y="768" width="132" height="1" fill="#e4e4e4"/><rect x="1283.1" y="773.7" width="8.3" height="7.7" fill="#7ff3f7"/><text x="1295.2" y="780.7" font-family="Liberation Sans" font-size="7.6" fill="#666">BCWS Work</text><rect x="1283.1" y="785.7" width="8.3" height="7.7" fill="#6f8fd6"/><text x="1295.2" y="792.7" font-family="Liberation Sans" font-size="7.6" fill="#666">EV Work</text><rect x="1283.1" y="797.6" width="8.3" height="7.7" fill="#e0400f"/><text x="1295.2" y="804.6" font-family="Liberation Sans" font-size="7.6" fill="#666">Actual Work</text><circle cx="1287.2" cy="813.5" r="3.8" fill="#7ff3f7"/><text x="1295.2" y="816.6" font-family="Liberation Sans" font-size="7.6" fill="#666">BCWS Work</text><circle cx="1287.2" cy="825.4" r="3.8" fill="#6f8fd6"/><text x="1295.2" y="828.5" font-family="Liberation Sans" font-size="7.6" fill="#666">EV Work</text><circle cx="1287.2" cy="837.4" r="3.8" fill="#000"/><text x="1295.2" y="840.5" font-family="Liberation Sans" font-size="7.6" fill="#666">At Completion Work</text><circle cx="1287.2" cy="849.3" r="3.8" fill="#e0400f"/><text x="1295.2" y="852.4" font-family="Liberation Sans" font-size="7.6" fill="#666">Actual Work</text><circle cx="1287.2" cy="861.2" r="3.8" fill="#7ff3f7"/><text x="1295.2" y="864.4" font-family="Liberation Sans" font-size="7.6" fill="#666">BAC Work</text></svg>
<svg class="s" style="left:0;top:0" width="1428" height="1007" font-family="Liberation Sans"><text x="43" y="22.6" font-size="20" fill="#f4f4f4" font-weight="bold" font-style="normal" text-anchor="start" textLength="68" lengthAdjust="spacingAndGlyphs">Adrega</text><text x="117" y="22.6" font-size="20" fill="#df7425" font-weight="bold" font-style="normal" text-anchor="start" textLength="19" lengthAdjust="spacingAndGlyphs">PI</text><text x="190.5" y="25" font-size="16" fill="#f2f2f2" font-weight="normal" font-style="normal" text-anchor="start" textLength="75.8" lengthAdjust="spacingAndGlyphs">Dashboard</text><text x="317.4" y="25" font-size="16" fill="#f2f2f2" font-weight="normal" font-style="normal" text-anchor="start" textLength="68.9" lengthAdjust="spacingAndGlyphs">Reporting</text><text x="437" y="25" font-size="16" fill="#f2f2f2" font-weight="normal" font-style="normal" text-anchor="start" textLength="60.8" lengthAdjust="spacingAndGlyphs">Planning</text><text x="548.7" y="25" font-size="16" fill="#f2f2f2" font-weight="normal" font-style="normal" text-anchor="start" textLength="102.8" lengthAdjust="spacingAndGlyphs">Administration</text><text x="1271" y="23" font-size="14" fill="#f2f2f2" font-weight="normal" font-style="normal" text-anchor="start" textLength="55" lengthAdjust="spacingAndGlyphs">Adrega 1</text><text x="15.5" y="61" font-size="12" fill="#fdf3ea" font-weight="normal" font-style="normal" text-anchor="start" textLength="56.8" lengthAdjust="spacingAndGlyphs">Dashboard</text><text x="96.6" y="61" font-size="12" fill="#333" font-weight="normal" font-style="normal" text-anchor="start" textLength="72.8" lengthAdjust="spacingAndGlyphs">Gantt Reports</text><text x="46.2" y="97.7" font-size="12" fill="#222" font-weight="normal" font-style="normal" text-anchor="start" textLength="94.1" lengthAdjust="spacingAndGlyphs">Report organizer:</text><text x="159.5" y="97.1" font-size="12" fill="#222" font-weight="normal" font-style="normal" text-anchor="start" textLength="92.5" lengthAdjust="spacingAndGlyphs">Default bundle(s)</text><text x="263.8" y="97.1" font-size="12" fill="#222" font-weight="normal" font-style="italic" text-anchor="start" textLength="60" lengthAdjust="spacingAndGlyphs">12 report(s)</text><text x="492.6" y="97.7" font-size="12" fill="#222" font-weight="normal" font-style="normal" text-anchor="start" textLength="31.7" lengthAdjust="spacingAndGlyphs">Rows:</text><text x="601.8" y="97.7" font-size="12" fill="#222" font-weight="normal" font-style="normal" text-anchor="start" textLength="50.5" lengthAdjust="spacingAndGlyphs">Columns:</text><text x="730" y="97.7" font-size="12" fill="#222" font-weight="normal" font-style="normal" text-anchor="start" textLength="37" lengthAdjust="spacingAndGlyphs">Labels:</text><text x="10" y="132" font-size="12" fill="#4b6593" font-weight="bold" font-style="normal" text-anchor="start" textLength="236.5" lengthAdjust="spacingAndGlyphs">MFG00337-1 Arcadia - Automated System</text><text x="10" y="147.8" font-size="12" fill="#4a8fd8" font-weight="bold" font-style="normal" text-anchor="start" textLength="274.3" lengthAdjust="spacingAndGlyphs">P6 Project Labour Units Grouped by WBS Level 2</text><text x="10" y="163.7" font-size="12" fill="#5c5c5c" font-weight="normal" font-style="normal" text-anchor="start" textLength="135.7" lengthAdjust="spacingAndGlyphs">Created: 10.07.2025 11:09</text><text x="724" y="132" font-size="12" fill="#4b6593" font-weight="bold" font-style="normal" text-anchor="start" textLength="236.5" lengthAdjust="spacingAndGlyphs">MFG00337-1 Arcadia - Automated System</text><text x="724" y="147.8" font-size="12" fill="#4a8fd8" font-weight="bold" font-style="normal" text-anchor="start" textLength="233.5" lengthAdjust="spacingAndGlyphs">Sample Gantt report (User Tracking View)</text><text x="724" y="163.7" font-size="12" fill="#5c5c5c" font-weight="normal" font-style="normal" text-anchor="start" textLength="135.7" lengthAdjust="spacingAndGlyphs">Created: 10.07.2025 11:09</text><text x="10" y="582" font-size="12" fill="#4b6593" font-weight="bold" font-style="normal" text-anchor="start" textLength="236.5" lengthAdjust="spacingAndGlyphs">MFG00337-1 Arcadia - Automated System</text><text x="10" y="597.8" font-size="12" fill="#4a8fd8" font-weight="bold" font-style="normal" text-anchor="start" textLength="266.8" lengthAdjust="spacingAndGlyphs">Graphical Resource Capacity with Current Work</text><text x="10" y="613.7" font-size="12" fill="#5c5c5c" font-weight="normal" font-style="normal" text-anchor="start" textLength="135.7" lengthAdjust="spacingAndGlyphs">Created: 10.07.2025 11:09</text><text x="724" y="582" font-size="12" fill="#4b6593" font-weight="bold" font-style="normal" text-anchor="start" textLength="236.5" lengthAdjust="spacingAndGlyphs">MFG00337-1 Arcadia - Automated System</text><text x="724" y="597.8" font-size="12" fill="#4a8fd8" font-weight="bold" font-style="normal" text-anchor="start" textLength="307.6" lengthAdjust="spacingAndGlyphs">Labour Units S-Curve Period Last Sunday of the Month</text><text x="724" y="613.7" font-size="12" fill="#5c5c5c" font-weight="normal" font-style="normal" text-anchor="start" textLength="135.7" lengthAdjust="spacingAndGlyphs">Created: 10.07.2025 11:09</text></svg>
</body></html>
